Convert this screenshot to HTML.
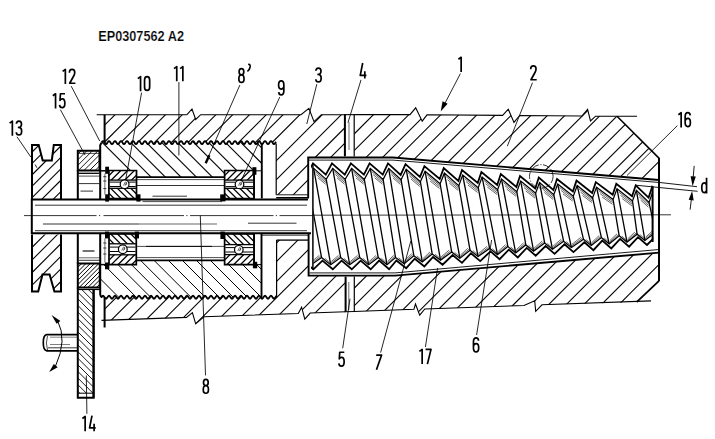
<!DOCTYPE html>
<html><head><meta charset="utf-8"><title>EP0307562 A2</title><style>html,body{margin:0;padding:0;background:#fff;}body{width:715px;height:439px;overflow:hidden;font-family:"Liberation Sans",sans-serif;}svg{display:block;}</style></head><body><svg width="715" height="439" viewBox="0 0 715 439" fill="none" stroke="#000" stroke-linecap="butt" stroke-linejoin="miter" font-family="Liberation Sans, sans-serif"><defs><clipPath id="c1"><polygon points="32,199 32,144.9 38.7,144.9 42.7,160.5 51.8,160.5 53.8,144.9 61,144.9 61,199"/></clipPath><clipPath id="c2"><polygon points="32,234.4 32,291.6 38.2,291.6 42.5,274.5 49.6,274.5 54.4,291.6 61,291.6 61,234.4"/></clipPath><clipPath id="c3"><polygon points="77.8,150.8 99.5,150.8 99.5,170.5 77.8,170.5"/></clipPath><clipPath id="c4"><polygon points="77.8,263.6 99.8,263.6 99.8,287.4 77.8,287.4"/></clipPath><clipPath id="c5"><polygon points="77.8,289.5 93.6,289.5 93.6,393.2 77.8,393.2"/></clipPath><clipPath id="c6"><polygon points="100.2,145 101.5,142.6 102,141.85 102.5,141.3 103,141.1 103.5,141.3 104,141.85 104.5,142.6 105,143.35 105.5,143.9 106,144.1 106.5,143.9 107,143.35 107.5,142.6 108,141.85 108.5,141.3 109,141.1 109.5,141.3 110,141.85 110.5,142.6 111,143.35 111.5,143.9 112,144.1 112.5,143.9 113,143.35 113.5,142.6 114,141.85 114.5,141.3 115,141.1 115.5,141.3 116,141.85 116.5,142.6 117,143.35 117.5,143.9 118,144.1 118.5,143.9 119,143.35 119.5,142.6 120,141.85 120.5,141.3 121,141.1 121.5,141.3 122,141.85 122.5,142.6 123,143.35 123.5,143.9 124,144.1 124.5,143.9 125,143.35 125.5,142.6 126,141.85 126.5,141.3 127,141.1 127.5,141.3 128,141.85 128.5,142.6 129,143.35 129.5,143.9 130,144.1 130.5,143.9 131,143.35 131.5,142.6 132,141.85 132.5,141.3 133,141.1 133.5,141.3 134,141.85 134.5,142.6 135,143.35 135.5,143.9 136,144.1 136.5,143.9 137,143.35 137.5,142.6 138,141.85 138.5,141.3 139,141.1 139.5,141.3 140,141.85 140.5,142.6 141,143.35 141.5,143.9 142,144.1 142.5,143.9 143,143.35 143.5,142.6 144,141.85 144.5,141.3 145,141.1 145.5,141.3 146,141.85 146.5,142.6 147,143.35 147.5,143.9 148,144.1 148.5,143.9 149,143.35 149.5,142.6 150,141.85 150.5,141.3 151,141.1 151.5,141.3 152,141.85 152.5,142.6 153,143.35 153.5,143.9 154,144.1 154.5,143.9 155,143.35 155.5,142.6 156,141.85 156.5,141.3 157,141.1 157.5,141.3 158,141.85 158.5,142.6 159,143.35 159.5,143.9 160,144.1 160.5,143.9 161,143.35 161.5,142.6 162,141.85 162.5,141.3 163,141.1 163.5,141.3 164,141.85 164.5,142.6 165,143.35 165.5,143.9 166,144.1 166.5,143.9 167,143.35 167.5,142.6 168,141.85 168.5,141.3 169,141.1 169.5,141.3 170,141.85 170.5,142.6 171,143.35 171.5,143.9 172,144.1 172.5,143.9 173,143.35 173.5,142.6 174,141.85 174.5,141.3 175,141.1 175.5,141.3 176,141.85 176.5,142.6 177,143.35 177.5,143.9 178,144.1 178.5,143.9 179,143.35 179.5,142.6 180,141.85 180.5,141.3 181,141.1 181.5,141.3 182,141.85 182.5,142.6 183,143.35 183.5,143.9 184,144.1 184.5,143.9 185,143.35 185.5,142.6 186,141.85 186.5,141.3 187,141.1 187.5,141.3 188,141.85 188.5,142.6 189,143.35 189.5,143.9 190,144.1 190.5,143.9 191,143.35 191.5,142.6 192,141.85 192.5,141.3 193,141.1 193.5,141.3 194,141.85 194.5,142.6 195,143.35 195.5,143.9 196,144.1 196.5,143.9 197,143.35 197.5,142.6 198,141.85 198.5,141.3 199,141.1 199.5,141.3 200,141.85 200.5,142.6 201,143.35 201.5,143.9 202,144.1 202.5,143.9 203,143.35 203.5,142.6 204,141.85 204.5,141.3 205,141.1 205.5,141.3 206,141.85 206.5,142.6 207,143.35 207.5,143.9 208,144.1 208.5,143.9 209,143.35 209.5,142.6 210,141.85 210.5,141.3 211,141.1 211.5,141.3 212,141.85 212.5,142.6 213,143.35 213.5,143.9 214,144.1 214.5,143.9 215,143.35 215.5,142.6 216,141.85 216.5,141.3 217,141.1 217.5,141.3 218,141.85 218.5,142.6 219,143.35 219.5,143.9 220,144.1 220.5,143.9 221,143.35 221.5,142.6 222,141.85 222.5,141.3 223,141.1 223.5,141.3 224,141.85 224.5,142.6 225,143.35 225.5,143.9 226,144.1 226.5,143.9 227,143.35 227.5,142.6 228,141.85 228.5,141.3 229,141.1 229.5,141.3 230,141.85 230.5,142.6 231,143.35 231.5,143.9 232,144.1 232.5,143.9 233,143.35 233.5,142.6 234,141.85 234.5,141.3 235,141.1 235.5,141.3 236,141.85 236.5,142.6 237,143.35 237.5,143.9 238,144.1 238.5,143.9 239,143.35 239.5,142.6 240,141.85 240.5,141.3 241,141.1 241.5,141.3 242,141.85 242.5,142.6 243,143.35 243.5,143.9 244,144.1 244.5,143.9 245,143.35 245.5,142.6 246,141.85 246.5,141.3 247,141.1 247.5,141.3 248,141.85 248.5,142.6 249,143.35 249.5,143.9 250,144.1 250.5,143.9 251,143.35 251.5,142.6 252,141.85 252.5,141.3 253,141.1 253.5,141.3 254,141.85 254.5,142.6 255,143.35 255.5,143.9 256,144.1 256.5,143.9 257,143.35 257.5,142.6 258,141.85 258.5,141.3 259,141.1 259.5,141.3 260,141.85 260.5,142.6 261,143.35 261.5,143.9 262,144.1 262,170.8 224.6,170.8 224.6,177.2 137,177.2 137,170.8 100.2,170.8"/></clipPath><clipPath id="c7"><polygon points="100.2,264.6 136.2,264.6 136.2,260.3 224.6,260.3 224.6,264.6 261.5,264.6 261.5,297.2 261.5,298.5 261,297.95 260.5,297.2 260,296.45 259.5,295.9 259,295.7 258.5,295.9 258,296.45 257.5,297.2 257,297.95 256.5,298.5 256,298.7 255.5,298.5 255,297.95 254.5,297.2 254,296.45 253.5,295.9 253,295.7 252.5,295.9 252,296.45 251.5,297.2 251,297.95 250.5,298.5 250,298.7 249.5,298.5 249,297.95 248.5,297.2 248,296.45 247.5,295.9 247,295.7 246.5,295.9 246,296.45 245.5,297.2 245,297.95 244.5,298.5 244,298.7 243.5,298.5 243,297.95 242.5,297.2 242,296.45 241.5,295.9 241,295.7 240.5,295.9 240,296.45 239.5,297.2 239,297.95 238.5,298.5 238,298.7 237.5,298.5 237,297.95 236.5,297.2 236,296.45 235.5,295.9 235,295.7 234.5,295.9 234,296.45 233.5,297.2 233,297.95 232.5,298.5 232,298.7 231.5,298.5 231,297.95 230.5,297.2 230,296.45 229.5,295.9 229,295.7 228.5,295.9 228,296.45 227.5,297.2 227,297.95 226.5,298.5 226,298.7 225.5,298.5 225,297.95 224.5,297.2 224,296.45 223.5,295.9 223,295.7 222.5,295.9 222,296.45 221.5,297.2 221,297.95 220.5,298.5 220,298.7 219.5,298.5 219,297.95 218.5,297.2 218,296.45 217.5,295.9 217,295.7 216.5,295.9 216,296.45 215.5,297.2 215,297.95 214.5,298.5 214,298.7 213.5,298.5 213,297.95 212.5,297.2 212,296.45 211.5,295.9 211,295.7 210.5,295.9 210,296.45 209.5,297.2 209,297.95 208.5,298.5 208,298.7 207.5,298.5 207,297.95 206.5,297.2 206,296.45 205.5,295.9 205,295.7 204.5,295.9 204,296.45 203.5,297.2 203,297.95 202.5,298.5 202,298.7 201.5,298.5 201,297.95 200.5,297.2 200,296.45 199.5,295.9 199,295.7 198.5,295.9 198,296.45 197.5,297.2 197,297.95 196.5,298.5 196,298.7 195.5,298.5 195,297.95 194.5,297.2 194,296.45 193.5,295.9 193,295.7 192.5,295.9 192,296.45 191.5,297.2 191,297.95 190.5,298.5 190,298.7 189.5,298.5 189,297.95 188.5,297.2 188,296.45 187.5,295.9 187,295.7 186.5,295.9 186,296.45 185.5,297.2 185,297.95 184.5,298.5 184,298.7 183.5,298.5 183,297.95 182.5,297.2 182,296.45 181.5,295.9 181,295.7 180.5,295.9 180,296.45 179.5,297.2 179,297.95 178.5,298.5 178,298.7 177.5,298.5 177,297.95 176.5,297.2 176,296.45 175.5,295.9 175,295.7 174.5,295.9 174,296.45 173.5,297.2 173,297.95 172.5,298.5 172,298.7 171.5,298.5 171,297.95 170.5,297.2 170,296.45 169.5,295.9 169,295.7 168.5,295.9 168,296.45 167.5,297.2 167,297.95 166.5,298.5 166,298.7 165.5,298.5 165,297.95 164.5,297.2 164,296.45 163.5,295.9 163,295.7 162.5,295.9 162,296.45 161.5,297.2 161,297.95 160.5,298.5 160,298.7 159.5,298.5 159,297.95 158.5,297.2 158,296.45 157.5,295.9 157,295.7 156.5,295.9 156,296.45 155.5,297.2 155,297.95 154.5,298.5 154,298.7 153.5,298.5 153,297.95 152.5,297.2 152,296.45 151.5,295.9 151,295.7 150.5,295.9 150,296.45 149.5,297.2 149,297.95 148.5,298.5 148,298.7 147.5,298.5 147,297.95 146.5,297.2 146,296.45 145.5,295.9 145,295.7 144.5,295.9 144,296.45 143.5,297.2 143,297.95 142.5,298.5 142,298.7 141.5,298.5 141,297.95 140.5,297.2 140,296.45 139.5,295.9 139,295.7 138.5,295.9 138,296.45 137.5,297.2 137,297.95 136.5,298.5 136,298.7 135.5,298.5 135,297.95 134.5,297.2 134,296.45 133.5,295.9 133,295.7 132.5,295.9 132,296.45 131.5,297.2 131,297.95 130.5,298.5 130,298.7 129.5,298.5 129,297.95 128.5,297.2 128,296.45 127.5,295.9 127,295.7 126.5,295.9 126,296.45 125.5,297.2 125,297.95 124.5,298.5 124,298.7 123.5,298.5 123,297.95 122.5,297.2 122,296.45 121.5,295.9 121,295.7 120.5,295.9 120,296.45 119.5,297.2 119,297.95 118.5,298.5 118,298.7 117.5,298.5 117,297.95 116.5,297.2 116,296.45 115.5,295.9 115,295.7 114.5,295.9 114,296.45 113.5,297.2 113,297.95 112.5,298.5 112,298.7 111.5,298.5 111,297.95 110.5,297.2 110,296.45 109.5,295.9 109,295.7 108.5,295.9 108,296.45 107.5,297.2 107,297.95 106.5,298.5 106,298.7 105.5,298.5 105,297.95 104.5,297.2 104,296.45 103.5,295.9 103,295.7 102.5,295.9 102,296.45 101.5,297.2 100.2,294.5"/></clipPath><clipPath id="c8"><polygon points="104.6,114.7 187,114.7 192,109 195.7,119.4 200.7,114.7 301,114.7 308.9,108.4 314,121.6 321.3,114.7 344.9,114.7 344.9,157.2 308,157.2 308,194.8 276.2,194.8 276.2,142.6 276.1,141.72 275.6,142.44 275.1,143.21 274.6,143.81 274.1,144.09 273.6,143.97 273.1,143.48 272.6,142.76 272.1,141.99 271.6,141.39 271.1,141.11 270.6,141.23 270.1,141.72 269.6,142.44 269.1,143.21 268.6,143.81 268.1,144.09 267.6,143.97 267.1,143.48 266.6,142.76 266.1,141.99 265.6,141.39 265.1,141.11 264.6,141.23 264.1,141.72 263.6,142.44 263.1,143.21 262.6,143.81 262.1,144.09 261.6,143.97 261.1,143.48 260.6,142.76 260.1,141.99 259.6,141.39 259.1,141.11 258.6,141.23 258.1,141.72 257.6,142.44 257.1,143.21 256.6,143.81 256.1,144.09 255.6,143.97 255.1,143.48 254.6,142.76 254.1,141.99 253.6,141.39 253.1,141.11 252.6,141.23 252.1,141.72 251.6,142.44 251.1,143.21 250.6,143.81 250.1,144.09 249.6,143.97 249.1,143.48 248.6,142.76 248.1,141.99 247.6,141.39 247.1,141.11 246.6,141.23 246.1,141.72 245.6,142.44 245.1,143.21 244.6,143.81 244.1,144.09 243.6,143.97 243.1,143.48 242.6,142.76 242.1,141.99 241.6,141.39 241.1,141.11 240.6,141.23 240.1,141.72 239.6,142.44 239.1,143.21 238.6,143.81 238.1,144.09 237.6,143.97 237.1,143.48 236.6,142.76 236.1,141.99 235.6,141.39 235.1,141.11 234.6,141.23 234.1,141.72 233.6,142.44 233.1,143.21 232.6,143.81 232.1,144.09 231.6,143.97 231.1,143.48 230.6,142.76 230.1,141.99 229.6,141.39 229.1,141.11 228.6,141.23 228.1,141.72 227.6,142.44 227.1,143.21 226.6,143.81 226.1,144.09 225.6,143.97 225.1,143.48 224.6,142.76 224.1,141.99 223.6,141.39 223.1,141.11 222.6,141.23 222.1,141.72 221.6,142.44 221.1,143.21 220.6,143.81 220.1,144.09 219.6,143.97 219.1,143.48 218.6,142.76 218.1,141.99 217.6,141.39 217.1,141.11 216.6,141.23 216.1,141.72 215.6,142.44 215.1,143.21 214.6,143.81 214.1,144.09 213.6,143.97 213.1,143.48 212.6,142.76 212.1,141.99 211.6,141.39 211.1,141.11 210.6,141.23 210.1,141.72 209.6,142.44 209.1,143.21 208.6,143.81 208.1,144.09 207.6,143.97 207.1,143.48 206.6,142.76 206.1,141.99 205.6,141.39 205.1,141.11 204.6,141.23 204.1,141.72 203.6,142.44 203.1,143.21 202.6,143.81 202.1,144.09 201.6,143.97 201.1,143.48 200.6,142.76 200.1,141.99 199.6,141.39 199.1,141.11 198.6,141.23 198.1,141.72 197.6,142.44 197.1,143.21 196.6,143.81 196.1,144.09 195.6,143.97 195.1,143.48 194.6,142.76 194.1,141.99 193.6,141.39 193.1,141.11 192.6,141.23 192.1,141.72 191.6,142.44 191.1,143.21 190.6,143.81 190.1,144.09 189.6,143.97 189.1,143.48 188.6,142.76 188.1,141.99 187.6,141.39 187.1,141.11 186.6,141.23 186.1,141.72 185.6,142.44 185.1,143.21 184.6,143.81 184.1,144.09 183.6,143.97 183.1,143.48 182.6,142.76 182.1,141.99 181.6,141.39 181.1,141.11 180.6,141.23 180.1,141.72 179.6,142.44 179.1,143.21 178.6,143.81 178.1,144.09 177.6,143.97 177.1,143.48 176.6,142.76 176.1,141.99 175.6,141.39 175.1,141.11 174.6,141.23 174.1,141.72 173.6,142.44 173.1,143.21 172.6,143.81 172.1,144.09 171.6,143.97 171.1,143.48 170.6,142.76 170.1,141.99 169.6,141.39 169.1,141.11 168.6,141.23 168.1,141.72 167.6,142.44 167.1,143.21 166.6,143.81 166.1,144.09 165.6,143.97 165.1,143.48 164.6,142.76 164.1,141.99 163.6,141.39 163.1,141.11 162.6,141.23 162.1,141.72 161.6,142.44 161.1,143.21 160.6,143.81 160.1,144.09 159.6,143.97 159.1,143.48 158.6,142.76 158.1,141.99 157.6,141.39 157.1,141.11 156.6,141.23 156.1,141.72 155.6,142.44 155.1,143.21 154.6,143.81 154.1,144.09 153.6,143.97 153.1,143.48 152.6,142.76 152.1,141.99 151.6,141.39 151.1,141.11 150.6,141.23 150.1,141.72 149.6,142.44 149.1,143.21 148.6,143.81 148.1,144.09 147.6,143.97 147.1,143.48 146.6,142.76 146.1,141.99 145.6,141.39 145.1,141.11 144.6,141.23 144.1,141.72 143.6,142.44 143.1,143.21 142.6,143.81 142.1,144.09 141.6,143.97 141.1,143.48 140.6,142.76 140.1,141.99 139.6,141.39 139.1,141.11 138.6,141.23 138.1,141.72 137.6,142.44 137.1,143.21 136.6,143.81 136.1,144.09 135.6,143.97 135.1,143.48 134.6,142.76 134.1,141.99 133.6,141.39 133.1,141.11 132.6,141.23 132.1,141.72 131.6,142.44 131.1,143.21 130.6,143.81 130.1,144.09 129.6,143.97 129.1,143.48 128.6,142.76 128.1,141.99 127.6,141.39 127.1,141.11 126.6,141.23 126.1,141.72 125.6,142.44 125.1,143.21 124.6,143.81 124.1,144.09 123.6,143.97 123.1,143.48 122.6,142.76 122.1,141.99 121.6,141.39 121.1,141.11 120.6,141.23 120.1,141.72 119.6,142.44 119.1,143.21 118.6,143.81 118.1,144.09 117.6,143.97 117.1,143.48 116.6,142.76 116.1,141.99 115.6,141.39 115.1,141.11 114.6,141.23 114.1,141.72 113.6,142.44 113.1,143.21 112.6,143.81 112.1,144.09 111.6,143.97 111.1,143.48 110.6,142.76 110.1,141.99 109.6,141.39 109.1,141.11 108.6,141.23 108.1,141.72 107.6,142.44 107.1,143.21 106.6,143.81 106.1,144.09 105.6,143.97 105.1,143.48 104.6,142.76"/></clipPath><clipPath id="c9"><polygon points="104.6,297.2 104.6,297.36 105.1,298.08 105.6,298.57 106.1,298.69 106.6,298.41 107.1,297.81 107.6,297.04 108.1,296.32 108.6,295.83 109.1,295.71 109.6,295.99 110.1,296.59 110.6,297.36 111.1,298.08 111.6,298.57 112.1,298.69 112.6,298.41 113.1,297.81 113.6,297.04 114.1,296.32 114.6,295.83 115.1,295.71 115.6,295.99 116.1,296.59 116.6,297.36 117.1,298.08 117.6,298.57 118.1,298.69 118.6,298.41 119.1,297.81 119.6,297.04 120.1,296.32 120.6,295.83 121.1,295.71 121.6,295.99 122.1,296.59 122.6,297.36 123.1,298.08 123.6,298.57 124.1,298.69 124.6,298.41 125.1,297.81 125.6,297.04 126.1,296.32 126.6,295.83 127.1,295.71 127.6,295.99 128.1,296.59 128.6,297.36 129.1,298.08 129.6,298.57 130.1,298.69 130.6,298.41 131.1,297.81 131.6,297.04 132.1,296.32 132.6,295.83 133.1,295.71 133.6,295.99 134.1,296.59 134.6,297.36 135.1,298.08 135.6,298.57 136.1,298.69 136.6,298.41 137.1,297.81 137.6,297.04 138.1,296.32 138.6,295.83 139.1,295.71 139.6,295.99 140.1,296.59 140.6,297.36 141.1,298.08 141.6,298.57 142.1,298.69 142.6,298.41 143.1,297.81 143.6,297.04 144.1,296.32 144.6,295.83 145.1,295.71 145.6,295.99 146.1,296.59 146.6,297.36 147.1,298.08 147.6,298.57 148.1,298.69 148.6,298.41 149.1,297.81 149.6,297.04 150.1,296.32 150.6,295.83 151.1,295.71 151.6,295.99 152.1,296.59 152.6,297.36 153.1,298.08 153.6,298.57 154.1,298.69 154.6,298.41 155.1,297.81 155.6,297.04 156.1,296.32 156.6,295.83 157.1,295.71 157.6,295.99 158.1,296.59 158.6,297.36 159.1,298.08 159.6,298.57 160.1,298.69 160.6,298.41 161.1,297.81 161.6,297.04 162.1,296.32 162.6,295.83 163.1,295.71 163.6,295.99 164.1,296.59 164.6,297.36 165.1,298.08 165.6,298.57 166.1,298.69 166.6,298.41 167.1,297.81 167.6,297.04 168.1,296.32 168.6,295.83 169.1,295.71 169.6,295.99 170.1,296.59 170.6,297.36 171.1,298.08 171.6,298.57 172.1,298.69 172.6,298.41 173.1,297.81 173.6,297.04 174.1,296.32 174.6,295.83 175.1,295.71 175.6,295.99 176.1,296.59 176.6,297.36 177.1,298.08 177.6,298.57 178.1,298.69 178.6,298.41 179.1,297.81 179.6,297.04 180.1,296.32 180.6,295.83 181.1,295.71 181.6,295.99 182.1,296.59 182.6,297.36 183.1,298.08 183.6,298.57 184.1,298.69 184.6,298.41 185.1,297.81 185.6,297.04 186.1,296.32 186.6,295.83 187.1,295.71 187.6,295.99 188.1,296.59 188.6,297.36 189.1,298.08 189.6,298.57 190.1,298.69 190.6,298.41 191.1,297.81 191.6,297.04 192.1,296.32 192.6,295.83 193.1,295.71 193.6,295.99 194.1,296.59 194.6,297.36 195.1,298.08 195.6,298.57 196.1,298.69 196.6,298.41 197.1,297.81 197.6,297.04 198.1,296.32 198.6,295.83 199.1,295.71 199.6,295.99 200.1,296.59 200.6,297.36 201.1,298.08 201.6,298.57 202.1,298.69 202.6,298.41 203.1,297.81 203.6,297.04 204.1,296.32 204.6,295.83 205.1,295.71 205.6,295.99 206.1,296.59 206.6,297.36 207.1,298.08 207.6,298.57 208.1,298.69 208.6,298.41 209.1,297.81 209.6,297.04 210.1,296.32 210.6,295.83 211.1,295.71 211.6,295.99 212.1,296.59 212.6,297.36 213.1,298.08 213.6,298.57 214.1,298.69 214.6,298.41 215.1,297.81 215.6,297.04 216.1,296.32 216.6,295.83 217.1,295.71 217.6,295.99 218.1,296.59 218.6,297.36 219.1,298.08 219.6,298.57 220.1,298.69 220.6,298.41 221.1,297.81 221.6,297.04 222.1,296.32 222.6,295.83 223.1,295.71 223.6,295.99 224.1,296.59 224.6,297.36 225.1,298.08 225.6,298.57 226.1,298.69 226.6,298.41 227.1,297.81 227.6,297.04 228.1,296.32 228.6,295.83 229.1,295.71 229.6,295.99 230.1,296.59 230.6,297.36 231.1,298.08 231.6,298.57 232.1,298.69 232.6,298.41 233.1,297.81 233.6,297.04 234.1,296.32 234.6,295.83 235.1,295.71 235.6,295.99 236.1,296.59 236.6,297.36 237.1,298.08 237.6,298.57 238.1,298.69 238.6,298.41 239.1,297.81 239.6,297.04 240.1,296.32 240.6,295.83 241.1,295.71 241.6,295.99 242.1,296.59 242.6,297.36 243.1,298.08 243.6,298.57 244.1,298.69 244.6,298.41 245.1,297.81 245.6,297.04 246.1,296.32 246.6,295.83 247.1,295.71 247.6,295.99 248.1,296.59 248.6,297.36 249.1,298.08 249.6,298.57 250.1,298.69 250.6,298.41 251.1,297.81 251.6,297.04 252.1,296.32 252.6,295.83 253.1,295.71 253.6,295.99 254.1,296.59 254.6,297.36 255.1,298.08 255.6,298.57 256.1,298.69 256.6,298.41 257.1,297.81 257.6,297.04 258.1,296.32 258.6,295.83 259.1,295.71 259.6,295.99 260.1,296.59 260.6,297.36 261.1,298.08 261.6,298.57 262.1,298.69 262.6,298.41 263.1,297.81 263.6,297.04 264.1,296.32 264.6,295.83 265.1,295.71 265.6,295.99 266.1,296.59 266.6,297.36 267.1,298.08 267.6,298.57 268.1,298.69 268.6,298.41 269.1,297.81 269.6,297.04 270.1,296.32 270.6,295.83 271.1,295.71 271.6,295.99 272.1,296.59 272.6,297.36 273.1,298.08 273.6,298.57 274.1,298.69 274.6,298.41 275.1,297.81 275.6,297.04 276.1,296.32 276.5,240.1 308,240.1 308,276 345.5,276 345.5,311.76 310.2,313.02 304.8,319.1 301.6,307.2 298.3,313.44 204,316.79 195.7,323.8 192.4,312.6 186.5,317.41 104.6,320.31"/></clipPath><clipPath id="c10"><polygon points="108.9,170.5 136.5,170.5 136.5,180.1 108.9,180.1"/></clipPath><clipPath id="c11"><polygon points="108.9,188.3 136.5,188.3 136.5,198.6 108.9,198.6"/></clipPath><clipPath id="c12"><polygon points="224.6,170.5 254,170.5 254,180.1 224.6,180.1"/></clipPath><clipPath id="c13"><polygon points="224.6,188.3 254,188.3 254,198.6 224.6,198.6"/></clipPath><clipPath id="c14"><polygon points="109,254.8 136.3,254.8 136.3,264.6 109,264.6"/></clipPath><clipPath id="c15"><polygon points="109,234 136.3,234 136.3,243.8 109,243.8"/></clipPath><clipPath id="c16"><polygon points="224.6,254.6 254,254.6 254,264.6 224.6,264.6"/></clipPath><clipPath id="c17"><polygon points="224.6,234 254,234 254,244.6 224.6,244.6"/></clipPath><clipPath id="c18"><polygon points="354.4,114.6 410,114.67 415.7,107.8 422.2,121.2 427,114.8 502.6,115.37 508.3,109.2 514,122.4 519.7,115.5 582,115.96 587.6,109.4 590.5,121 595.6,116.2 617,116.2 659.2,158.4 659.2,179.69 393,157.2 354.4,157.2"/></clipPath><clipPath id="c19"><polygon points="354.3,276 395,276 659,252.95 659,280.8 636.6,302.2 542,304.79 535.7,311.3 534.7,300.8 524,305.43 424.8,308.95 419.7,315.1 415.5,304 413.9,309.33 354.3,311.45"/></clipPath><clipPath id="c20"><polygon points="313,163.4 325.8,174.6 332,163.4 344.75,174.6 350.9,163.4 363.89,174.6 369.6,163.4 382.74,174.6 388,163.4 400.67,174.88 405.5,164.18 419.98,176.89 424.4,166.15 439.73,178.94 443.7,168.15 458.4,180.88 462,170.06 477.8,182.9 481.4,172.07 497.2,184.92 500.8,174.09 516.4,186.91 520,176.09 535.2,188.5 538.8,177.59 553.4,189.96 557,179.05 572.9,191.52 576.5,180.61 592.2,193.06 595.8,182.15 612.7,194.7 616.3,183.79 632.1,196.26 635.7,185.34 648.6,197.58 652.6,186.6 652.6,241.6 647,244.98 638,237.15 629.1,246.71 620.1,238.88 611.3,248.43 602.3,240.6 593.4,250.15 584.4,242.32 573.5,252.07 564.5,244.24 554.6,253.9 545.6,246.07 535.7,255.72 526.7,247.89 517.8,257.45 508.8,249.62 499.6,259.21 490.5,251.38 480.2,261.08 470.95,253.27 462,262.83 452.62,255.04 442.6,264.71 433.07,256.93 424.4,266.46 414.74,258.7 406.2,268.22 396.4,260.46 389.1,269.3 379.17,260.6 370.7,269.3 360.63,260.6 351.8,269.3 341.59,260.6 332.8,269.3 322.45,260.6 313.4,269.3"/></clipPath><clipPath id="c21"><polygon points="311,150 653.2,150 653.2,290 311,290"/></clipPath></defs><rect width="715" height="439" fill="#fff" stroke="none"/><path d="M24 215.6H96.5M99 215.6h1.2M103.5 215.6H184M186.3 215.6h1.2M190 215.6H273.5M275.8 215.6h1.2M279.5 215.6H312" stroke-width="0.8"/>
<line x1="312" y1="215.2" x2="671" y2="214.8" stroke-width="0.8" />
<line x1="31.8" y1="199.4" x2="308" y2="199.4" stroke-width="2" />
<line x1="31.8" y1="233.3" x2="311" y2="233.3" stroke-width="2" />
<line x1="31.8" y1="198.6" x2="31.8" y2="234.1" stroke-width="2" />
<line x1="35" y1="205.2" x2="307" y2="205.2" stroke-width="0.8" />
<line x1="43" y1="224" x2="139" y2="224" stroke-width="0.8" />
<line x1="139" y1="224" x2="217" y2="224" stroke-width="0.6" />
<line x1="248" y1="223.2" x2="296.5" y2="223.2" stroke-width="0.8" />
<line x1="35" y1="230.7" x2="307" y2="230.7" stroke-width="0.8" />
<line x1="142.5" y1="201.6" x2="222" y2="201.6" stroke-width="0.7" />
<g clip-path="url(#c1)">
<line x1="41.2" y1="142.9" x2="-16.9" y2="201" stroke-width="1.1" />
<line x1="52.6" y1="142.9" x2="-5.5" y2="201" stroke-width="1.1" />
<line x1="64" y1="142.9" x2="5.9" y2="201" stroke-width="1.1" />
<line x1="75.4" y1="142.9" x2="17.3" y2="201" stroke-width="1.1" />
<line x1="86.8" y1="142.9" x2="28.7" y2="201" stroke-width="1.1" />
<line x1="98.2" y1="142.9" x2="40.1" y2="201" stroke-width="1.1" />
<line x1="109.6" y1="142.9" x2="51.5" y2="201" stroke-width="1.1" />
</g>
<polyline points="32,199 32,144.9 38.7,144.9 42.7,160.5 51.8,160.5 53.8,144.9 61,144.9 61,199" stroke-width="2" />
<g clip-path="url(#c2)">
<line x1="47" y1="232.4" x2="-14.2" y2="293.6" stroke-width="1.1" />
<line x1="59.6" y1="232.4" x2="-1.6" y2="293.6" stroke-width="1.1" />
<line x1="72.2" y1="232.4" x2="11" y2="293.6" stroke-width="1.1" />
<line x1="84.8" y1="232.4" x2="23.6" y2="293.6" stroke-width="1.1" />
<line x1="97.4" y1="232.4" x2="36.2" y2="293.6" stroke-width="1.1" />
<line x1="110" y1="232.4" x2="48.8" y2="293.6" stroke-width="1.1" />
</g>
<polyline points="32,234.4 32,291.6 38.2,291.6 42.5,274.5 49.6,274.5 54.4,291.6 61,291.6 61,234.4" stroke-width="2" />
<g clip-path="url(#c3)">
<line x1="83.2" y1="148.8" x2="59.5" y2="172.5" stroke-width="0.9" />
<line x1="88.8" y1="148.8" x2="65.1" y2="172.5" stroke-width="0.9" />
<line x1="94.4" y1="148.8" x2="70.7" y2="172.5" stroke-width="0.9" />
<line x1="100" y1="148.8" x2="76.3" y2="172.5" stroke-width="0.9" />
<line x1="105.6" y1="148.8" x2="81.9" y2="172.5" stroke-width="0.9" />
<line x1="111.2" y1="148.8" x2="87.5" y2="172.5" stroke-width="0.9" />
<line x1="116.8" y1="148.8" x2="93.1" y2="172.5" stroke-width="0.9" />
<line x1="122.4" y1="148.8" x2="98.7" y2="172.5" stroke-width="0.9" />
</g>
<polygon points="77.8,150.8 99.5,150.8 99.5,170.5 77.8,170.5" stroke-width="2" fill="none" />
<line x1="77.8" y1="153.4" x2="99.5" y2="153.4" stroke-width="0.7" />
<line x1="77.8" y1="170.5" x2="77.8" y2="199" stroke-width="2" />
<line x1="77.8" y1="173.3" x2="99.5" y2="173.3" stroke-width="1.3" />
<line x1="79" y1="176.1" x2="99.5" y2="176.1" stroke-width="0.7" />
<line x1="79" y1="183.6" x2="99.5" y2="183.6" stroke-width="0.8" />
<line x1="80.5" y1="191.1" x2="93" y2="191.1" stroke-width="0.8" />
<g clip-path="url(#c4)">
<line x1="83.6" y1="261.6" x2="55.8" y2="289.4" stroke-width="1" />
<line x1="87.9" y1="261.6" x2="60.1" y2="289.4" stroke-width="1" />
<line x1="92.2" y1="261.6" x2="64.4" y2="289.4" stroke-width="1" />
<line x1="96.5" y1="261.6" x2="68.7" y2="289.4" stroke-width="1" />
<line x1="100.8" y1="261.6" x2="73" y2="289.4" stroke-width="1" />
<line x1="105.1" y1="261.6" x2="77.3" y2="289.4" stroke-width="1" />
<line x1="109.4" y1="261.6" x2="81.6" y2="289.4" stroke-width="1" />
<line x1="113.7" y1="261.6" x2="85.9" y2="289.4" stroke-width="1" />
<line x1="118" y1="261.6" x2="90.2" y2="289.4" stroke-width="1" />
<line x1="122.3" y1="261.6" x2="94.5" y2="289.4" stroke-width="1" />
<line x1="126.6" y1="261.6" x2="98.8" y2="289.4" stroke-width="1" />
</g>
<polygon points="77.8,263.6 99.8,263.6 99.8,287.4 77.8,287.4" stroke-width="2" fill="none" />
<line x1="77.8" y1="233.6" x2="77.8" y2="263.6" stroke-width="2" />
<line x1="79" y1="260.3" x2="99.8" y2="260.3" stroke-width="0.8" />
<line x1="82.6" y1="251" x2="94.5" y2="251" stroke-width="1.1" />
<line x1="79" y1="257.8" x2="99.8" y2="257.8" stroke-width="0.6" />
<g clip-path="url(#c5)">
<line x1="-32.5" y1="287.5" x2="75.2" y2="395.2" stroke-width="0.9" />
<line x1="-25.9" y1="287.5" x2="81.8" y2="395.2" stroke-width="0.9" />
<line x1="-19.3" y1="287.5" x2="88.4" y2="395.2" stroke-width="0.9" />
<line x1="-12.7" y1="287.5" x2="95" y2="395.2" stroke-width="0.9" />
<line x1="-6.1" y1="287.5" x2="101.6" y2="395.2" stroke-width="0.9" />
<line x1="0.5" y1="287.5" x2="108.2" y2="395.2" stroke-width="0.9" />
<line x1="7.1" y1="287.5" x2="114.8" y2="395.2" stroke-width="0.9" />
<line x1="13.7" y1="287.5" x2="121.4" y2="395.2" stroke-width="0.9" />
<line x1="20.3" y1="287.5" x2="128" y2="395.2" stroke-width="0.9" />
<line x1="26.9" y1="287.5" x2="134.6" y2="395.2" stroke-width="0.9" />
<line x1="33.5" y1="287.5" x2="141.2" y2="395.2" stroke-width="0.9" />
<line x1="40.1" y1="287.5" x2="147.8" y2="395.2" stroke-width="0.9" />
<line x1="46.7" y1="287.5" x2="154.4" y2="395.2" stroke-width="0.9" />
<line x1="53.3" y1="287.5" x2="161" y2="395.2" stroke-width="0.9" />
<line x1="59.9" y1="287.5" x2="167.6" y2="395.2" stroke-width="0.9" />
<line x1="66.5" y1="287.5" x2="174.2" y2="395.2" stroke-width="0.9" />
<line x1="73.1" y1="287.5" x2="180.8" y2="395.2" stroke-width="0.9" />
<line x1="79.7" y1="287.5" x2="187.4" y2="395.2" stroke-width="0.9" />
<line x1="86.3" y1="287.5" x2="194" y2="395.2" stroke-width="0.9" />
<line x1="92.9" y1="287.5" x2="200.6" y2="395.2" stroke-width="0.9" />
</g>
<polyline points="77.8,287.4 77.8,397.8 93.6,397.8 93.6,289.5" stroke-width="2" />
<line x1="77.8" y1="289.5" x2="100" y2="289.5" stroke-width="1.2" />
<line x1="77.8" y1="393.2" x2="93.6" y2="393.2" stroke-width="1" />
<line x1="93.6" y1="289.5" x2="93.6" y2="397.8" stroke-width="2" />
<path d="M77.8 334.7H46.8Q43.2 335.2 43.3 342.8Q43.2 350.3 46.8 350.8H77.8" stroke-width="1.7"/>
<path d="M47.5 336Q45.3 343 47.5 350" stroke-width="0.7"/>
<line x1="48" y1="347.8" x2="77.8" y2="347.8" stroke-width="0.8" />
<line x1="50" y1="337.2" x2="77" y2="337.2" stroke-width="0.5" />
<line x1="50" y1="344.5" x2="70" y2="344.5" stroke-width="0.5" />
<path d="M57.5 320.5Q67.6 340 55.4 366.4" stroke-width="1.0"/>
<polygon points="51.6,314.9 60.4,321 56.6,323.7" fill="#000" stroke="none"/>
<polygon points="49.2,371.9 53.8,364 57.7,367.2" fill="#000" stroke="none"/>
<g clip-path="url(#c6)">
<line x1="98.9" y1="139.1" x2="139" y2="179.2" stroke-width="1.1" />
<line x1="113.1" y1="139.1" x2="153.2" y2="179.2" stroke-width="1.1" />
<line x1="127.4" y1="139.1" x2="167.5" y2="179.2" stroke-width="1.1" />
<line x1="143" y1="139.1" x2="183.1" y2="179.2" stroke-width="1.1" />
<line x1="158.4" y1="139.1" x2="198.5" y2="179.2" stroke-width="1.1" />
<line x1="174.4" y1="139.1" x2="214.5" y2="179.2" stroke-width="1.1" />
<line x1="190.3" y1="139.1" x2="230.4" y2="179.2" stroke-width="1.1" />
<line x1="205.3" y1="139.1" x2="245.4" y2="179.2" stroke-width="1.1" />
<line x1="222.1" y1="139.1" x2="262.2" y2="179.2" stroke-width="1.1" />
<line x1="237.5" y1="139.1" x2="277.6" y2="179.2" stroke-width="1.1" />
<line x1="252.9" y1="139.1" x2="293" y2="179.2" stroke-width="1.1" />
</g>
<g clip-path="url(#c7)">
<line x1="79.8" y1="258.3" x2="122.2" y2="300.7" stroke-width="1" />
<line x1="97.4" y1="258.3" x2="139.8" y2="300.7" stroke-width="1" />
<line x1="111.7" y1="258.3" x2="154.1" y2="300.7" stroke-width="1" />
<line x1="125.1" y1="258.3" x2="167.5" y2="300.7" stroke-width="1" />
<line x1="138.5" y1="258.3" x2="180.9" y2="300.7" stroke-width="1" />
<line x1="152" y1="258.3" x2="194.4" y2="300.7" stroke-width="1" />
<line x1="166.3" y1="258.3" x2="208.7" y2="300.7" stroke-width="1" />
<line x1="180.3" y1="258.3" x2="222.7" y2="300.7" stroke-width="1" />
<line x1="194.3" y1="258.3" x2="236.7" y2="300.7" stroke-width="1" />
<line x1="208.3" y1="258.3" x2="250.7" y2="300.7" stroke-width="1" />
<line x1="222.3" y1="258.3" x2="264.7" y2="300.7" stroke-width="1" />
<line x1="236.3" y1="258.3" x2="278.7" y2="300.7" stroke-width="1" />
<line x1="250.3" y1="258.3" x2="292.7" y2="300.7" stroke-width="1" />
</g>
<g clip-path="url(#c8)">
<line x1="123.4" y1="106.4" x2="33" y2="196.8" stroke-width="1.1" />
<line x1="140.2" y1="106.4" x2="49.8" y2="196.8" stroke-width="1.1" />
<line x1="157" y1="106.4" x2="66.6" y2="196.8" stroke-width="1.1" />
<line x1="173.8" y1="106.4" x2="83.4" y2="196.8" stroke-width="1.1" />
<line x1="190.6" y1="106.4" x2="100.2" y2="196.8" stroke-width="1.1" />
<line x1="207.4" y1="106.4" x2="117" y2="196.8" stroke-width="1.1" />
<line x1="224.2" y1="106.4" x2="133.8" y2="196.8" stroke-width="1.1" />
<line x1="241" y1="106.4" x2="150.6" y2="196.8" stroke-width="1.1" />
<line x1="257.8" y1="106.4" x2="167.4" y2="196.8" stroke-width="1.1" />
<line x1="274.6" y1="106.4" x2="184.2" y2="196.8" stroke-width="1.1" />
<line x1="291.4" y1="106.4" x2="201" y2="196.8" stroke-width="1.1" />
<line x1="308.2" y1="106.4" x2="217.8" y2="196.8" stroke-width="1.1" />
<line x1="330.6" y1="106.4" x2="240.2" y2="196.8" stroke-width="1.1" />
<line x1="349.6" y1="106.4" x2="259.2" y2="196.8" stroke-width="1.1" />
<line x1="366.2" y1="106.4" x2="275.8" y2="196.8" stroke-width="1.1" />
<line x1="381.6" y1="106.4" x2="291.2" y2="196.8" stroke-width="1.1" />
</g>
<line x1="96.7" y1="114.7" x2="187" y2="114.7" stroke-width="1.1" />
<polyline points="187,114.7 192,109 195.7,119.4 200.7,114.7 301,114.7 308.9,108.4 314,121.6 321.3,114.7 344.9,114.7" stroke-width="1.1" />
<line x1="104.6" y1="114.7" x2="104.6" y2="143.2" stroke-width="2" />
<polyline points="101.5,142.6 102,141.85 102.5,141.3 103,141.1 103.5,141.3 104,141.85 104.5,142.6 105,143.35 105.5,143.9 106,144.1 106.5,143.9 107,143.35 107.5,142.6 108,141.85 108.5,141.3 109,141.1 109.5,141.3 110,141.85 110.5,142.6 111,143.35 111.5,143.9 112,144.1 112.5,143.9 113,143.35 113.5,142.6 114,141.85 114.5,141.3 115,141.1 115.5,141.3 116,141.85 116.5,142.6 117,143.35 117.5,143.9 118,144.1 118.5,143.9 119,143.35 119.5,142.6 120,141.85 120.5,141.3 121,141.1 121.5,141.3 122,141.85 122.5,142.6 123,143.35 123.5,143.9 124,144.1 124.5,143.9 125,143.35 125.5,142.6 126,141.85 126.5,141.3 127,141.1 127.5,141.3 128,141.85 128.5,142.6 129,143.35 129.5,143.9 130,144.1 130.5,143.9 131,143.35 131.5,142.6 132,141.85 132.5,141.3 133,141.1 133.5,141.3 134,141.85 134.5,142.6 135,143.35 135.5,143.9 136,144.1 136.5,143.9 137,143.35 137.5,142.6 138,141.85 138.5,141.3 139,141.1 139.5,141.3 140,141.85 140.5,142.6 141,143.35 141.5,143.9 142,144.1 142.5,143.9 143,143.35 143.5,142.6 144,141.85 144.5,141.3 145,141.1 145.5,141.3 146,141.85 146.5,142.6 147,143.35 147.5,143.9 148,144.1 148.5,143.9 149,143.35 149.5,142.6 150,141.85 150.5,141.3 151,141.1 151.5,141.3 152,141.85 152.5,142.6 153,143.35 153.5,143.9 154,144.1 154.5,143.9 155,143.35 155.5,142.6 156,141.85 156.5,141.3 157,141.1 157.5,141.3 158,141.85 158.5,142.6 159,143.35 159.5,143.9 160,144.1 160.5,143.9 161,143.35 161.5,142.6 162,141.85 162.5,141.3 163,141.1 163.5,141.3 164,141.85 164.5,142.6 165,143.35 165.5,143.9 166,144.1 166.5,143.9 167,143.35 167.5,142.6 168,141.85 168.5,141.3 169,141.1 169.5,141.3 170,141.85 170.5,142.6 171,143.35 171.5,143.9 172,144.1 172.5,143.9 173,143.35 173.5,142.6 174,141.85 174.5,141.3 175,141.1 175.5,141.3 176,141.85 176.5,142.6 177,143.35 177.5,143.9 178,144.1 178.5,143.9 179,143.35 179.5,142.6 180,141.85 180.5,141.3 181,141.1 181.5,141.3 182,141.85 182.5,142.6 183,143.35 183.5,143.9 184,144.1 184.5,143.9 185,143.35 185.5,142.6 186,141.85 186.5,141.3 187,141.1 187.5,141.3 188,141.85 188.5,142.6 189,143.35 189.5,143.9 190,144.1 190.5,143.9 191,143.35 191.5,142.6 192,141.85 192.5,141.3 193,141.1 193.5,141.3 194,141.85 194.5,142.6 195,143.35 195.5,143.9 196,144.1 196.5,143.9 197,143.35 197.5,142.6 198,141.85 198.5,141.3 199,141.1 199.5,141.3 200,141.85 200.5,142.6 201,143.35 201.5,143.9 202,144.1 202.5,143.9 203,143.35 203.5,142.6 204,141.85 204.5,141.3 205,141.1 205.5,141.3 206,141.85 206.5,142.6 207,143.35 207.5,143.9 208,144.1 208.5,143.9 209,143.35 209.5,142.6 210,141.85 210.5,141.3 211,141.1 211.5,141.3 212,141.85 212.5,142.6 213,143.35 213.5,143.9 214,144.1 214.5,143.9 215,143.35 215.5,142.6 216,141.85 216.5,141.3 217,141.1 217.5,141.3 218,141.85 218.5,142.6 219,143.35 219.5,143.9 220,144.1 220.5,143.9 221,143.35 221.5,142.6 222,141.85 222.5,141.3 223,141.1 223.5,141.3 224,141.85 224.5,142.6 225,143.35 225.5,143.9 226,144.1 226.5,143.9 227,143.35 227.5,142.6 228,141.85 228.5,141.3 229,141.1 229.5,141.3 230,141.85 230.5,142.6 231,143.35 231.5,143.9 232,144.1 232.5,143.9 233,143.35 233.5,142.6 234,141.85 234.5,141.3 235,141.1 235.5,141.3 236,141.85 236.5,142.6 237,143.35 237.5,143.9 238,144.1 238.5,143.9 239,143.35 239.5,142.6 240,141.85 240.5,141.3 241,141.1 241.5,141.3 242,141.85 242.5,142.6 243,143.35 243.5,143.9 244,144.1 244.5,143.9 245,143.35 245.5,142.6 246,141.85 246.5,141.3 247,141.1 247.5,141.3 248,141.85 248.5,142.6 249,143.35 249.5,143.9 250,144.1 250.5,143.9 251,143.35 251.5,142.6 252,141.85 252.5,141.3 253,141.1 253.5,141.3 254,141.85 254.5,142.6 255,143.35 255.5,143.9 256,144.1 256.5,143.9 257,143.35 257.5,142.6 258,141.85 258.5,141.3 259,141.1 259.5,141.3 260,141.85 260.5,142.6 261,143.35 261.5,143.9 262,144.1 262.5,143.9 263,143.35 263.5,142.6 264,141.85 264.5,141.3 265,141.1 265.5,141.3 266,141.85 266.5,142.6 267,143.35 267.5,143.9 268,144.1 268.5,143.9 269,143.35 269.5,142.6 270,141.85 270.5,141.3 271,141.1 271.5,141.3 272,141.85 272.5,142.6 273,143.35 273.5,143.9 274,144.1 274.5,143.9 275,143.35 275.5,142.6 276,141.85" stroke-width="1.8" />
<polyline points="100.2,199 100.2,145.2 101.5,142.6" stroke-width="2" />
<g clip-path="url(#c9)">
<line x1="175.7" y1="238.1" x2="88" y2="325.8" stroke-width="1.1" />
<line x1="193.3" y1="238.1" x2="105.6" y2="325.8" stroke-width="1.1" />
<line x1="210.1" y1="238.1" x2="122.4" y2="325.8" stroke-width="1.1" />
<line x1="227.7" y1="238.1" x2="140" y2="325.8" stroke-width="1.1" />
<line x1="245.4" y1="238.1" x2="157.7" y2="325.8" stroke-width="1.1" />
<line x1="262.9" y1="238.1" x2="175.2" y2="325.8" stroke-width="1.1" />
<line x1="281.4" y1="238.1" x2="193.7" y2="325.8" stroke-width="1.1" />
<line x1="299.9" y1="238.1" x2="212.2" y2="325.8" stroke-width="1.1" />
<line x1="319.9" y1="238.1" x2="232.2" y2="325.8" stroke-width="1.1" />
<line x1="336.1" y1="238.1" x2="248.4" y2="325.8" stroke-width="1.1" />
<line x1="355.9" y1="238.1" x2="268.2" y2="325.8" stroke-width="1.1" />
<line x1="373.9" y1="238.1" x2="286.2" y2="325.8" stroke-width="1.1" />
<line x1="389.9" y1="238.1" x2="302.2" y2="325.8" stroke-width="1.1" />
</g>
<polyline points="101.5,320.42 186.5,317.41 192.4,312.6 195.7,323.8 204,316.79 298.3,313.44 301.6,307.2 304.8,319.1 310.2,313.02 345.5,311.76" stroke-width="1.1" />
<line x1="104.6" y1="297.2" x2="104.6" y2="327.5" stroke-width="2" />
<polyline points="101.5,297.2 102,296.45 102.5,295.9 103,295.7 103.5,295.9 104,296.45 104.5,297.2 105,297.95 105.5,298.5 106,298.7 106.5,298.5 107,297.95 107.5,297.2 108,296.45 108.5,295.9 109,295.7 109.5,295.9 110,296.45 110.5,297.2 111,297.95 111.5,298.5 112,298.7 112.5,298.5 113,297.95 113.5,297.2 114,296.45 114.5,295.9 115,295.7 115.5,295.9 116,296.45 116.5,297.2 117,297.95 117.5,298.5 118,298.7 118.5,298.5 119,297.95 119.5,297.2 120,296.45 120.5,295.9 121,295.7 121.5,295.9 122,296.45 122.5,297.2 123,297.95 123.5,298.5 124,298.7 124.5,298.5 125,297.95 125.5,297.2 126,296.45 126.5,295.9 127,295.7 127.5,295.9 128,296.45 128.5,297.2 129,297.95 129.5,298.5 130,298.7 130.5,298.5 131,297.95 131.5,297.2 132,296.45 132.5,295.9 133,295.7 133.5,295.9 134,296.45 134.5,297.2 135,297.95 135.5,298.5 136,298.7 136.5,298.5 137,297.95 137.5,297.2 138,296.45 138.5,295.9 139,295.7 139.5,295.9 140,296.45 140.5,297.2 141,297.95 141.5,298.5 142,298.7 142.5,298.5 143,297.95 143.5,297.2 144,296.45 144.5,295.9 145,295.7 145.5,295.9 146,296.45 146.5,297.2 147,297.95 147.5,298.5 148,298.7 148.5,298.5 149,297.95 149.5,297.2 150,296.45 150.5,295.9 151,295.7 151.5,295.9 152,296.45 152.5,297.2 153,297.95 153.5,298.5 154,298.7 154.5,298.5 155,297.95 155.5,297.2 156,296.45 156.5,295.9 157,295.7 157.5,295.9 158,296.45 158.5,297.2 159,297.95 159.5,298.5 160,298.7 160.5,298.5 161,297.95 161.5,297.2 162,296.45 162.5,295.9 163,295.7 163.5,295.9 164,296.45 164.5,297.2 165,297.95 165.5,298.5 166,298.7 166.5,298.5 167,297.95 167.5,297.2 168,296.45 168.5,295.9 169,295.7 169.5,295.9 170,296.45 170.5,297.2 171,297.95 171.5,298.5 172,298.7 172.5,298.5 173,297.95 173.5,297.2 174,296.45 174.5,295.9 175,295.7 175.5,295.9 176,296.45 176.5,297.2 177,297.95 177.5,298.5 178,298.7 178.5,298.5 179,297.95 179.5,297.2 180,296.45 180.5,295.9 181,295.7 181.5,295.9 182,296.45 182.5,297.2 183,297.95 183.5,298.5 184,298.7 184.5,298.5 185,297.95 185.5,297.2 186,296.45 186.5,295.9 187,295.7 187.5,295.9 188,296.45 188.5,297.2 189,297.95 189.5,298.5 190,298.7 190.5,298.5 191,297.95 191.5,297.2 192,296.45 192.5,295.9 193,295.7 193.5,295.9 194,296.45 194.5,297.2 195,297.95 195.5,298.5 196,298.7 196.5,298.5 197,297.95 197.5,297.2 198,296.45 198.5,295.9 199,295.7 199.5,295.9 200,296.45 200.5,297.2 201,297.95 201.5,298.5 202,298.7 202.5,298.5 203,297.95 203.5,297.2 204,296.45 204.5,295.9 205,295.7 205.5,295.9 206,296.45 206.5,297.2 207,297.95 207.5,298.5 208,298.7 208.5,298.5 209,297.95 209.5,297.2 210,296.45 210.5,295.9 211,295.7 211.5,295.9 212,296.45 212.5,297.2 213,297.95 213.5,298.5 214,298.7 214.5,298.5 215,297.95 215.5,297.2 216,296.45 216.5,295.9 217,295.7 217.5,295.9 218,296.45 218.5,297.2 219,297.95 219.5,298.5 220,298.7 220.5,298.5 221,297.95 221.5,297.2 222,296.45 222.5,295.9 223,295.7 223.5,295.9 224,296.45 224.5,297.2 225,297.95 225.5,298.5 226,298.7 226.5,298.5 227,297.95 227.5,297.2 228,296.45 228.5,295.9 229,295.7 229.5,295.9 230,296.45 230.5,297.2 231,297.95 231.5,298.5 232,298.7 232.5,298.5 233,297.95 233.5,297.2 234,296.45 234.5,295.9 235,295.7 235.5,295.9 236,296.45 236.5,297.2 237,297.95 237.5,298.5 238,298.7 238.5,298.5 239,297.95 239.5,297.2 240,296.45 240.5,295.9 241,295.7 241.5,295.9 242,296.45 242.5,297.2 243,297.95 243.5,298.5 244,298.7 244.5,298.5 245,297.95 245.5,297.2 246,296.45 246.5,295.9 247,295.7 247.5,295.9 248,296.45 248.5,297.2 249,297.95 249.5,298.5 250,298.7 250.5,298.5 251,297.95 251.5,297.2 252,296.45 252.5,295.9 253,295.7 253.5,295.9 254,296.45 254.5,297.2 255,297.95 255.5,298.5 256,298.7 256.5,298.5 257,297.95 257.5,297.2 258,296.45 258.5,295.9 259,295.7 259.5,295.9 260,296.45 260.5,297.2 261,297.95 261.5,298.5 262,298.7 262.5,298.5 263,297.95 263.5,297.2 264,296.45 264.5,295.9 265,295.7 265.5,295.9 266,296.45 266.5,297.2 267,297.95 267.5,298.5 268,298.7 268.5,298.5 269,297.95 269.5,297.2 270,296.45 270.5,295.9 271,295.7 271.5,295.9 272,296.45 272.5,297.2 273,297.95 273.5,298.5 274,298.7 274.5,298.5 275,297.95 275.5,297.2 276,296.45 276.5,295.9" stroke-width="1.8" />
<path d="M100.2 233.6V294.2Q100.3 296.6 102.2 297.2" stroke-width="2.0"/>
<line x1="261.8" y1="143.2" x2="261.8" y2="198.4" stroke-width="1.9" />
<line x1="276.2" y1="143.6" x2="276.2" y2="194.8" stroke-width="1.2" />
<line x1="261.5" y1="233.6" x2="261.5" y2="297.6" stroke-width="1.9" />
<line x1="276.6" y1="240.1" x2="276.6" y2="297.6" stroke-width="1.2" />
<line x1="276.2" y1="194.8" x2="308" y2="194.8" stroke-width="0.9" />
<line x1="276.2" y1="197.8" x2="309" y2="197.8" stroke-width="1.5" />
<line x1="276.6" y1="240.1" x2="308" y2="240.1" stroke-width="1.3" />
<line x1="262" y1="235.2" x2="309" y2="235.2" stroke-width="0.8" />
<g clip-path="url(#c10)">
<line x1="109.2" y1="168.5" x2="95.6" y2="182.1" stroke-width="1.3" />
<line x1="116" y1="168.5" x2="102.4" y2="182.1" stroke-width="1.3" />
<line x1="122.8" y1="168.5" x2="109.2" y2="182.1" stroke-width="1.3" />
<line x1="129.6" y1="168.5" x2="116" y2="182.1" stroke-width="1.3" />
<line x1="136.4" y1="168.5" x2="122.8" y2="182.1" stroke-width="1.3" />
<line x1="143.2" y1="168.5" x2="129.6" y2="182.1" stroke-width="1.3" />
<line x1="150" y1="168.5" x2="136.4" y2="182.1" stroke-width="1.3" />
<line x1="156.8" y1="168.5" x2="143.2" y2="182.1" stroke-width="1.3" />
<line x1="163.6" y1="168.5" x2="150" y2="182.1" stroke-width="1.3" />
<line x1="170.4" y1="168.5" x2="156.8" y2="182.1" stroke-width="1.3" />
</g>
<g clip-path="url(#c11)">
<line x1="88.6" y1="186.3" x2="102.9" y2="200.6" stroke-width="1.3" />
<line x1="95.3" y1="186.3" x2="109.6" y2="200.6" stroke-width="1.3" />
<line x1="102" y1="186.3" x2="116.3" y2="200.6" stroke-width="1.3" />
<line x1="108.7" y1="186.3" x2="123" y2="200.6" stroke-width="1.3" />
<line x1="115.4" y1="186.3" x2="129.7" y2="200.6" stroke-width="1.3" />
<line x1="122.1" y1="186.3" x2="136.4" y2="200.6" stroke-width="1.3" />
<line x1="128.8" y1="186.3" x2="143.1" y2="200.6" stroke-width="1.3" />
<line x1="135.5" y1="186.3" x2="149.8" y2="200.6" stroke-width="1.3" />
<line x1="142.2" y1="186.3" x2="156.5" y2="200.6" stroke-width="1.3" />
<line x1="148.9" y1="186.3" x2="163.2" y2="200.6" stroke-width="1.3" />
</g>
<polygon points="108.9,170.5 136.5,170.5 136.5,198.6 108.9,198.6" stroke-width="1.7" fill="none" />
<line x1="108.9" y1="180.1" x2="136.5" y2="180.1" stroke-width="1.3" />
<line x1="108.9" y1="188.3" x2="136.5" y2="188.3" stroke-width="1.3" />
<line x1="109.7" y1="182.1" x2="120.8" y2="182.1" stroke-width="1" />
<line x1="128.4" y1="182.1" x2="135.7" y2="182.1" stroke-width="1" />
<line x1="109.7" y1="186.5" x2="120.8" y2="186.5" stroke-width="1" />
<line x1="128.4" y1="186.5" x2="135.7" y2="186.5" stroke-width="1" />
<circle cx="124.6" cy="184.3" r="4.4" fill="#fff" stroke-width="1.2"/>
<path d="M125.2 182.1l-1.6 3.4M126.5 182.5l-1.4 3.2M125.6 181.7q1.6 1.2 0.6 3.2" stroke-width="0.6"/>
<g clip-path="url(#c12)">
<line x1="224.9" y1="168.5" x2="211.3" y2="182.1" stroke-width="1.3" />
<line x1="231.7" y1="168.5" x2="218.1" y2="182.1" stroke-width="1.3" />
<line x1="238.5" y1="168.5" x2="224.9" y2="182.1" stroke-width="1.3" />
<line x1="245.3" y1="168.5" x2="231.7" y2="182.1" stroke-width="1.3" />
<line x1="252.1" y1="168.5" x2="238.5" y2="182.1" stroke-width="1.3" />
<line x1="258.9" y1="168.5" x2="245.3" y2="182.1" stroke-width="1.3" />
<line x1="265.7" y1="168.5" x2="252.1" y2="182.1" stroke-width="1.3" />
<line x1="272.5" y1="168.5" x2="258.9" y2="182.1" stroke-width="1.3" />
<line x1="279.3" y1="168.5" x2="265.7" y2="182.1" stroke-width="1.3" />
<line x1="286.1" y1="168.5" x2="272.5" y2="182.1" stroke-width="1.3" />
</g>
<g clip-path="url(#c13)">
<line x1="204.3" y1="186.3" x2="218.6" y2="200.6" stroke-width="1.3" />
<line x1="211" y1="186.3" x2="225.3" y2="200.6" stroke-width="1.3" />
<line x1="217.7" y1="186.3" x2="232" y2="200.6" stroke-width="1.3" />
<line x1="224.4" y1="186.3" x2="238.7" y2="200.6" stroke-width="1.3" />
<line x1="231.1" y1="186.3" x2="245.4" y2="200.6" stroke-width="1.3" />
<line x1="237.8" y1="186.3" x2="252.1" y2="200.6" stroke-width="1.3" />
<line x1="244.5" y1="186.3" x2="258.8" y2="200.6" stroke-width="1.3" />
<line x1="251.2" y1="186.3" x2="265.5" y2="200.6" stroke-width="1.3" />
<line x1="257.9" y1="186.3" x2="272.2" y2="200.6" stroke-width="1.3" />
<line x1="264.6" y1="186.3" x2="278.9" y2="200.6" stroke-width="1.3" />
</g>
<polygon points="224.6,170.5 254,170.5 254,198.6 224.6,198.6" stroke-width="1.7" fill="none" />
<line x1="224.6" y1="180.1" x2="254" y2="180.1" stroke-width="1.3" />
<line x1="224.6" y1="188.3" x2="254" y2="188.3" stroke-width="1.3" />
<line x1="225.4" y1="182.2" x2="235.8" y2="182.2" stroke-width="1" />
<line x1="243.2" y1="182.2" x2="253.2" y2="182.2" stroke-width="1" />
<line x1="225.4" y1="186.6" x2="235.8" y2="186.6" stroke-width="1" />
<line x1="243.2" y1="186.6" x2="253.2" y2="186.6" stroke-width="1" />
<circle cx="239.5" cy="184.4" r="4.3" fill="#fff" stroke-width="1.2"/>
<path d="M240.1 182.2l-1.6 3.4M241.4 182.6l-1.4 3.2M240.5 181.8q1.6 1.2 0.6 3.2" stroke-width="0.6"/>
<g clip-path="url(#c14)">
<line x1="109.5" y1="252.8" x2="95.7" y2="266.6" stroke-width="1.3" />
<line x1="116.3" y1="252.8" x2="102.5" y2="266.6" stroke-width="1.3" />
<line x1="123.1" y1="252.8" x2="109.3" y2="266.6" stroke-width="1.3" />
<line x1="129.9" y1="252.8" x2="116.1" y2="266.6" stroke-width="1.3" />
<line x1="136.7" y1="252.8" x2="122.9" y2="266.6" stroke-width="1.3" />
<line x1="143.5" y1="252.8" x2="129.7" y2="266.6" stroke-width="1.3" />
<line x1="150.3" y1="252.8" x2="136.5" y2="266.6" stroke-width="1.3" />
<line x1="157.1" y1="252.8" x2="143.3" y2="266.6" stroke-width="1.3" />
<line x1="163.9" y1="252.8" x2="150.1" y2="266.6" stroke-width="1.3" />
<line x1="170.7" y1="252.8" x2="156.9" y2="266.6" stroke-width="1.3" />
</g>
<g clip-path="url(#c15)">
<line x1="88.7" y1="232" x2="102.5" y2="245.8" stroke-width="1.3" />
<line x1="95.4" y1="232" x2="109.2" y2="245.8" stroke-width="1.3" />
<line x1="102.1" y1="232" x2="115.9" y2="245.8" stroke-width="1.3" />
<line x1="108.8" y1="232" x2="122.6" y2="245.8" stroke-width="1.3" />
<line x1="115.5" y1="232" x2="129.3" y2="245.8" stroke-width="1.3" />
<line x1="122.2" y1="232" x2="136" y2="245.8" stroke-width="1.3" />
<line x1="128.9" y1="232" x2="142.7" y2="245.8" stroke-width="1.3" />
<line x1="135.6" y1="232" x2="149.4" y2="245.8" stroke-width="1.3" />
<line x1="142.3" y1="232" x2="156.1" y2="245.8" stroke-width="1.3" />
<line x1="149" y1="232" x2="162.8" y2="245.8" stroke-width="1.3" />
</g>
<polygon points="109,234 136.3,234 136.3,264.6 109,264.6" stroke-width="1.7" fill="none" />
<line x1="109" y1="254.8" x2="136.3" y2="254.8" stroke-width="1.3" />
<line x1="109" y1="243.8" x2="136.3" y2="243.8" stroke-width="1.3" />
<line x1="109.8" y1="247.1" x2="119" y2="247.1" stroke-width="1" />
<line x1="126.6" y1="247.1" x2="135.5" y2="247.1" stroke-width="1" />
<line x1="109.8" y1="251.5" x2="119" y2="251.5" stroke-width="1" />
<line x1="126.6" y1="251.5" x2="135.5" y2="251.5" stroke-width="1" />
<circle cx="122.8" cy="249.3" r="4.4" fill="#fff" stroke-width="1.2"/>
<path d="M123.4 247.1l-1.6 3.4M124.7 247.5l-1.4 3.2M123.8 246.7q1.6 1.2 0.6 3.2" stroke-width="0.6"/>
<g clip-path="url(#c16)">
<line x1="225.3" y1="252.6" x2="211.3" y2="266.6" stroke-width="1.3" />
<line x1="232.1" y1="252.6" x2="218.1" y2="266.6" stroke-width="1.3" />
<line x1="238.9" y1="252.6" x2="224.9" y2="266.6" stroke-width="1.3" />
<line x1="245.7" y1="252.6" x2="231.7" y2="266.6" stroke-width="1.3" />
<line x1="252.5" y1="252.6" x2="238.5" y2="266.6" stroke-width="1.3" />
<line x1="259.3" y1="252.6" x2="245.3" y2="266.6" stroke-width="1.3" />
<line x1="266.1" y1="252.6" x2="252.1" y2="266.6" stroke-width="1.3" />
<line x1="272.9" y1="252.6" x2="258.9" y2="266.6" stroke-width="1.3" />
<line x1="279.7" y1="252.6" x2="265.7" y2="266.6" stroke-width="1.3" />
<line x1="286.5" y1="252.6" x2="272.5" y2="266.6" stroke-width="1.3" />
</g>
<g clip-path="url(#c17)">
<line x1="204.3" y1="232" x2="218.9" y2="246.6" stroke-width="1.3" />
<line x1="211" y1="232" x2="225.6" y2="246.6" stroke-width="1.3" />
<line x1="217.7" y1="232" x2="232.3" y2="246.6" stroke-width="1.3" />
<line x1="224.4" y1="232" x2="239" y2="246.6" stroke-width="1.3" />
<line x1="231.1" y1="232" x2="245.7" y2="246.6" stroke-width="1.3" />
<line x1="237.8" y1="232" x2="252.4" y2="246.6" stroke-width="1.3" />
<line x1="244.5" y1="232" x2="259.1" y2="246.6" stroke-width="1.3" />
<line x1="251.2" y1="232" x2="265.8" y2="246.6" stroke-width="1.3" />
<line x1="257.9" y1="232" x2="272.5" y2="246.6" stroke-width="1.3" />
<line x1="264.6" y1="232" x2="279.2" y2="246.6" stroke-width="1.3" />
</g>
<polygon points="224.6,234 254,234 254,264.6 224.6,264.6" stroke-width="1.7" fill="none" />
<line x1="224.6" y1="254.6" x2="254" y2="254.6" stroke-width="1.3" />
<line x1="224.6" y1="244.6" x2="254" y2="244.6" stroke-width="1.3" />
<line x1="225.4" y1="247.6" x2="235.1" y2="247.6" stroke-width="1" />
<line x1="242.5" y1="247.6" x2="253.2" y2="247.6" stroke-width="1" />
<line x1="225.4" y1="252" x2="235.1" y2="252" stroke-width="1" />
<line x1="242.5" y1="252" x2="253.2" y2="252" stroke-width="1" />
<circle cx="238.8" cy="249.8" r="4.3" fill="#fff" stroke-width="1.2"/>
<path d="M239.4 247.6l-1.6 3.4M240.7 248l-1.4 3.2M239.8 247.2q1.6 1.2 0.6 3.2" stroke-width="0.6"/>
<rect x="105.2" y="166.7" width="3.8" height="7.1" fill="#000" stroke="none"/>
<rect x="105.2" y="194.3" width="3.8" height="7.3" fill="#000" stroke="none"/>
<rect x="136.4" y="194.3" width="4.1" height="7.3" fill="#000" stroke="none"/>
<rect x="220.2" y="194.4" width="5.2" height="7" fill="#000" stroke="none"/>
<rect x="252.4" y="167.2" width="4" height="7.6" fill="#000" stroke="none"/>
<rect x="105" y="231.6" width="4.2" height="6.8" fill="#000" stroke="none"/>
<rect x="105" y="262.5" width="4.3" height="6.8" fill="#000" stroke="none"/>
<rect x="134.8" y="231.6" width="4.2" height="6.8" fill="#000" stroke="none"/>
<rect x="220.4" y="231.6" width="4.4" height="7.4" fill="#000" stroke="none"/>
<rect x="252.9" y="261.8" width="4.3" height="6.5" fill="#000" stroke="none"/>
<line x1="99.5" y1="170.8" x2="105.4" y2="170.8" stroke-width="1.5" />
<line x1="100" y1="264.6" x2="105.4" y2="264.6" stroke-width="1.5" />
<line x1="103.2" y1="176.7" x2="106.4" y2="176.7" stroke-width="0.7" />
<line x1="103.2" y1="181" x2="106.4" y2="181" stroke-width="0.7" />
<line x1="103.2" y1="188.6" x2="106.4" y2="188.6" stroke-width="0.7" />
<line x1="103.2" y1="243" x2="106.4" y2="243" stroke-width="0.7" />
<line x1="103.2" y1="248" x2="106.4" y2="248" stroke-width="0.7" />
<line x1="103.2" y1="254" x2="106.4" y2="254" stroke-width="0.7" />
<line x1="104.9" y1="173.6" x2="104.9" y2="194.6" stroke-width="0.6" />
<line x1="104.9" y1="238.4" x2="104.9" y2="262.5" stroke-width="0.6" />
<line x1="137" y1="177.2" x2="224.6" y2="177.2" stroke-width="1.7" />
<line x1="137" y1="179.6" x2="224.6" y2="179.6" stroke-width="0.7" />
<line x1="137" y1="185.5" x2="224.6" y2="185.5" stroke-width="0.8" />
<line x1="152.5" y1="196.2" x2="187" y2="196.2" stroke-width="0.8" />
<line x1="136.3" y1="260.3" x2="224.6" y2="260.3" stroke-width="1.7" />
<line x1="136.3" y1="257.6" x2="224.6" y2="257.6" stroke-width="0.7" />
<line x1="136.3" y1="246.4" x2="224.6" y2="246.4" stroke-width="0.7" />
<line x1="146" y1="246.4" x2="212" y2="246.4" stroke-width="0.9" />
<line x1="254.2" y1="174.8" x2="254.2" y2="198.4" stroke-width="1.6" />
<line x1="254.2" y1="233.6" x2="254.2" y2="262" stroke-width="1.6" />
<line x1="254" y1="170.8" x2="262" y2="170.8" stroke-width="1" />
<line x1="254" y1="264.6" x2="261.5" y2="264.6" stroke-width="1" />
<g clip-path="url(#c18)">
<line x1="382.3" y1="105.8" x2="306.41" y2="181.69" stroke-width="1.1" />
<line x1="399" y1="105.8" x2="323.11" y2="181.69" stroke-width="1.1" />
<line x1="417.7" y1="105.8" x2="341.81" y2="181.69" stroke-width="1.1" />
<line x1="434.2" y1="105.8" x2="358.31" y2="181.69" stroke-width="1.1" />
<line x1="449.7" y1="105.8" x2="373.81" y2="181.69" stroke-width="1.1" />
<line x1="467.7" y1="105.8" x2="391.81" y2="181.69" stroke-width="1.1" />
<line x1="485.9" y1="105.8" x2="410.01" y2="181.69" stroke-width="1.1" />
<line x1="504.4" y1="105.8" x2="428.51" y2="181.69" stroke-width="1.1" />
<line x1="520.7" y1="105.8" x2="444.81" y2="181.69" stroke-width="1.1" />
<line x1="540.5" y1="105.8" x2="464.61" y2="181.69" stroke-width="1.1" />
<line x1="557.1" y1="105.8" x2="481.21" y2="181.69" stroke-width="1.1" />
<line x1="574.5" y1="105.8" x2="498.61" y2="181.69" stroke-width="1.1" />
<line x1="592.4" y1="105.8" x2="516.51" y2="181.69" stroke-width="1.1" />
<line x1="609.8" y1="105.8" x2="533.91" y2="181.69" stroke-width="1.1" />
<line x1="627.3" y1="105.8" x2="551.41" y2="181.69" stroke-width="1.1" />
<line x1="643.9" y1="105.8" x2="568.01" y2="181.69" stroke-width="1.1" />
<line x1="661.3" y1="105.8" x2="585.41" y2="181.69" stroke-width="1.1" />
<line x1="678.8" y1="105.8" x2="602.91" y2="181.69" stroke-width="1.1" />
<line x1="691.4" y1="105.8" x2="615.51" y2="181.69" stroke-width="1.1" />
<line x1="714.7" y1="105.8" x2="638.81" y2="181.69" stroke-width="1.1" />
</g>
<polyline points="354.4,114.6 410,114.67 415.7,107.8 422.2,121.2 427,114.8 502.6,115.37 508.3,109.2 514,122.4 519.7,115.5 582,115.96 587.6,109.4 590.5,121 595.6,116.2 637,116.2" stroke-width="1.1" />
<polyline points="617,116.2 659.2,158.4" stroke-width="1.6" />
<g clip-path="url(#c19)">
<line x1="391.45" y1="250.95" x2="325.3" y2="317.1" stroke-width="1.1" />
<line x1="409.02" y1="250.95" x2="342.87" y2="317.1" stroke-width="1.1" />
<line x1="426.59" y1="250.95" x2="360.44" y2="317.1" stroke-width="1.1" />
<line x1="444.16" y1="250.95" x2="378.01" y2="317.1" stroke-width="1.1" />
<line x1="461.73" y1="250.95" x2="395.58" y2="317.1" stroke-width="1.1" />
<line x1="479.3" y1="250.95" x2="413.15" y2="317.1" stroke-width="1.1" />
<line x1="496.87" y1="250.95" x2="430.72" y2="317.1" stroke-width="1.1" />
<line x1="514.44" y1="250.95" x2="448.29" y2="317.1" stroke-width="1.1" />
<line x1="532.01" y1="250.95" x2="465.86" y2="317.1" stroke-width="1.1" />
<line x1="549.58" y1="250.95" x2="483.43" y2="317.1" stroke-width="1.1" />
<line x1="567.15" y1="250.95" x2="501" y2="317.1" stroke-width="1.1" />
<line x1="584.72" y1="250.95" x2="518.57" y2="317.1" stroke-width="1.1" />
<line x1="602.29" y1="250.95" x2="536.14" y2="317.1" stroke-width="1.1" />
<line x1="619.86" y1="250.95" x2="553.71" y2="317.1" stroke-width="1.1" />
<line x1="637.43" y1="250.95" x2="571.28" y2="317.1" stroke-width="1.1" />
<line x1="655" y1="250.95" x2="588.85" y2="317.1" stroke-width="1.1" />
<line x1="672.57" y1="250.95" x2="606.42" y2="317.1" stroke-width="1.1" />
<line x1="690.14" y1="250.95" x2="623.99" y2="317.1" stroke-width="1.1" />
</g>
<polyline points="354.3,311.45 413.9,309.33 415.5,304 419.7,315.1 424.8,308.95 524,305.43 534.7,300.8 535.7,311.3 542,304.79 651,300.92" stroke-width="1.1" />
<polyline points="659,280.8 636.6,302.2" stroke-width="1.8" />
<line x1="659" y1="158" x2="659" y2="281" stroke-width="2" />
<line x1="344" y1="114.65" x2="355" y2="114.65" stroke-width="1.1" />
<line x1="344.6" y1="311.78" x2="355" y2="311.43" stroke-width="1.1" />
<line x1="344.9" y1="114.6" x2="344.9" y2="156.4" stroke-width="2" />
<line x1="354.2" y1="114.6" x2="354.2" y2="156.4" stroke-width="1.2" />
<line x1="349" y1="122" x2="349" y2="150" stroke-width="0.6" />
<line x1="345.6" y1="276.6" x2="345.6" y2="311.76" stroke-width="2" />
<line x1="354.3" y1="276.6" x2="354.3" y2="311.45" stroke-width="1.2" />
<line x1="348.8" y1="282" x2="348.8" y2="310" stroke-width="0.6" />
<polyline points="308.2,198 308.2,157.5 393,157.5 659,179.98" stroke-width="1.9" />
<polyline points="309,160.1 393,160.1 658,182.4" stroke-width="0.9" />
<polyline points="308.6,234 308.6,275.6 395,275.6 659,252.65" stroke-width="1.9" />
<polyline points="309.5,272.9 395,272.9 658,249.6" stroke-width="0.9" />
<line x1="658" y1="182.3" x2="697" y2="186.7" stroke-width="0.9" />
<line x1="635.7" y1="185.2" x2="697.6" y2="191.3" stroke-width="0.9" />
<polygon points="313,163.4 325.8,174.6 332,163.4 344.75,174.6 350.9,163.4 363.89,174.6 369.6,163.4 382.74,174.6 388,163.4 400.67,174.88 405.5,164.18 419.98,176.89 424.4,166.15 439.73,178.94 443.7,168.15 458.4,180.88 462,170.06 477.8,182.9 481.4,172.07 497.2,184.92 500.8,174.09 516.4,186.91 520,176.09 535.2,188.5 538.8,177.59 553.4,189.96 557,179.05 572.9,191.52 576.5,180.61 592.2,193.06 595.8,182.15 612.7,194.7 616.3,183.79 632.1,196.26 635.7,185.34 648.6,197.58 652.6,186.6 652.6,241.6 647,244.98 638,237.15 629.1,246.71 620.1,238.88 611.3,248.43 602.3,240.6 593.4,250.15 584.4,242.32 573.5,252.07 564.5,244.24 554.6,253.9 545.6,246.07 535.7,255.72 526.7,247.89 517.8,257.45 508.8,249.62 499.6,259.21 490.5,251.38 480.2,261.08 470.95,253.27 462,262.83 452.62,255.04 442.6,264.71 433.07,256.93 424.4,266.46 414.74,258.7 406.2,268.22 396.4,260.46 389.1,269.3 379.17,260.6 370.7,269.3 360.63,260.6 351.8,269.3 341.59,260.6 332.8,269.3 322.45,260.6 313.4,269.3" fill="#fff" stroke="none"/>
<g clip-path="url(#c20)">
<line x1="312" y1="215.2" x2="671" y2="214.8" stroke-width="0.8" />
<line x1="294.7" y1="168.4" x2="311.3" y2="264.7" stroke-width="1.3" />
<line x1="313.7" y1="168.4" x2="330.7" y2="264.7" stroke-width="1.3" />
<line x1="332.7" y1="168.4" x2="349.7" y2="264.7" stroke-width="1.3" />
<line x1="351.6" y1="168.4" x2="368.6" y2="264.7" stroke-width="1.3" />
<line x1="370.3" y1="168.4" x2="387" y2="264.7" stroke-width="1.3" />
<line x1="388.7" y1="168.4" x2="404.1" y2="263.62" stroke-width="1.3" />
<line x1="406.2" y1="169.18" x2="422.3" y2="261.86" stroke-width="1.3" />
<line x1="425.1" y1="171.15" x2="440.5" y2="260.11" stroke-width="1.3" />
<line x1="444.4" y1="173.15" x2="459.9" y2="258.23" stroke-width="1.3" />
<line x1="462.7" y1="175.06" x2="478.1" y2="256.48" stroke-width="1.3" />
<line x1="482.1" y1="177.07" x2="497.5" y2="254.61" stroke-width="1.3" />
<line x1="501.5" y1="179.09" x2="515.7" y2="252.85" stroke-width="1.3" />
<line x1="520.7" y1="181.09" x2="533.6" y2="251.12" stroke-width="1.3" />
<line x1="539.5" y1="182.59" x2="552.5" y2="249.3" stroke-width="1.3" />
<line x1="557.7" y1="184.05" x2="571.4" y2="247.47" stroke-width="1.3" />
<line x1="577.2" y1="185.61" x2="591.3" y2="245.55" stroke-width="1.3" />
<line x1="596.5" y1="187.15" x2="609.2" y2="243.83" stroke-width="1.3" />
<line x1="617" y1="188.79" x2="627" y2="242.11" stroke-width="1.3" />
<line x1="636.4" y1="190.34" x2="644.9" y2="240.38" stroke-width="1.3" />
<line x1="652.9" y1="191.66" x2="663.4" y2="238.6" stroke-width="1.3" />
<line x1="671.7" y1="193.17" x2="681.9" y2="236.81" stroke-width="1.3" />
<line x1="307.2" y1="179.4" x2="321.55" y2="257.6" stroke-width="1.3" />
<line x1="326.2" y1="179.4" x2="340.69" y2="257.6" stroke-width="1.3" />
<line x1="345.15" y1="179.4" x2="359.73" y2="257.6" stroke-width="1.3" />
<line x1="364.29" y1="179.4" x2="378.27" y2="257.6" stroke-width="1.3" />
<line x1="383.14" y1="179.4" x2="395.5" y2="257.46" stroke-width="1.3" />
<line x1="401.07" y1="179.68" x2="413.84" y2="255.7" stroke-width="1.3" />
<line x1="420.38" y1="181.69" x2="432.17" y2="253.93" stroke-width="1.3" />
<line x1="440.13" y1="183.74" x2="451.72" y2="252.04" stroke-width="1.3" />
<line x1="458.8" y1="185.68" x2="470.05" y2="250.27" stroke-width="1.3" />
<line x1="478.2" y1="187.7" x2="489.6" y2="248.38" stroke-width="1.3" />
<line x1="497.6" y1="189.72" x2="507.9" y2="246.62" stroke-width="1.3" />
<line x1="516.8" y1="191.71" x2="525.8" y2="244.89" stroke-width="1.3" />
<line x1="535.6" y1="193.3" x2="544.7" y2="243.07" stroke-width="1.3" />
<line x1="553.8" y1="194.76" x2="563.6" y2="241.24" stroke-width="1.3" />
<line x1="573.3" y1="196.32" x2="583.5" y2="239.32" stroke-width="1.3" />
<line x1="592.6" y1="197.86" x2="601.4" y2="237.6" stroke-width="1.3" />
<line x1="613.1" y1="199.5" x2="619.2" y2="235.88" stroke-width="1.3" />
<line x1="632.5" y1="201.06" x2="637.1" y2="234.15" stroke-width="1.3" />
<line x1="649" y1="202.38" x2="655.6" y2="232.37" stroke-width="1.3" />
<line x1="667.8" y1="203.88" x2="674.1" y2="230.58" stroke-width="1.3" />
<polyline points="294.7,168.4 307.2,179.4 313.7,168.4 326.2,179.4 332.7,168.4 345.15,179.4 351.6,168.4 364.29,179.4 370.3,168.4 383.14,179.4 388.7,168.4 401.07,179.68 406.2,169.18 420.38,181.69 425.1,171.15 440.13,183.74 444.4,173.15 458.8,185.68 462.7,175.06 478.2,187.7 482.1,177.07 497.6,189.72 501.5,179.09 516.8,191.71 520.7,181.09 535.6,193.3 539.5,182.59 553.8,194.76 557.7,184.05 573.3,196.32 577.2,185.61 592.6,197.86 596.5,187.15 613.1,199.5 617,188.79 632.5,201.06 636.4,190.34 649,202.38 652.9,191.66 667.8,203.88 671.7,193.17 686.76,205.4" stroke-width="1.25" />
<polyline points="283,257.6 292.3,264.7 302,257.6 311.3,264.7 321.55,257.6 330.7,264.7 340.69,257.6 349.7,264.7 359.73,257.6 368.6,264.7 378.27,257.6 387,264.7 395.5,257.46 404.1,263.62 413.84,255.7 422.3,261.86 432.17,253.93 440.5,260.11 451.72,252.04 459.9,258.23 470.05,250.27 478.1,256.48 489.6,248.38 497.5,254.61 507.9,246.62 515.7,252.85 525.8,244.89 533.6,251.12 544.7,243.07 552.5,249.3 563.6,241.24 571.4,247.47 583.5,239.32 591.3,245.55 601.4,237.6 609.2,243.83 619.2,235.88 627,242.11 637.1,234.15 644.9,240.38 655.6,232.37 663.4,238.6 674.1,230.58 681.9,236.81" stroke-width="1.25" />
<line x1="296.2" y1="171.62" x2="307" y2="181" stroke-width="0.6" />
<line x1="297.45" y1="174.62" x2="306.8" y2="182.6" stroke-width="0.6" />
<line x1="298.95" y1="177.84" x2="306.6" y2="184.2" stroke-width="0.6" />
<line x1="315.2" y1="171.62" x2="326" y2="181" stroke-width="0.6" />
<line x1="316.45" y1="174.62" x2="325.8" y2="182.6" stroke-width="0.6" />
<line x1="317.95" y1="177.84" x2="325.6" y2="184.2" stroke-width="0.6" />
<line x1="334.19" y1="171.62" x2="344.95" y2="181" stroke-width="0.6" />
<line x1="335.44" y1="174.62" x2="344.75" y2="182.6" stroke-width="0.6" />
<line x1="336.93" y1="177.84" x2="344.55" y2="184.2" stroke-width="0.6" />
<line x1="353.12" y1="171.62" x2="364.09" y2="181" stroke-width="0.6" />
<line x1="354.39" y1="174.62" x2="363.89" y2="182.6" stroke-width="0.6" />
<line x1="355.92" y1="177.84" x2="363.69" y2="184.2" stroke-width="0.6" />
<line x1="371.84" y1="171.62" x2="382.94" y2="181" stroke-width="0.6" />
<line x1="373.12" y1="174.62" x2="382.74" y2="182.6" stroke-width="0.6" />
<line x1="374.66" y1="177.84" x2="382.54" y2="184.2" stroke-width="0.6" />
<line x1="390.18" y1="171.65" x2="400.87" y2="181.28" stroke-width="0.6" />
<line x1="391.42" y1="174.68" x2="400.67" y2="182.88" stroke-width="0.6" />
<line x1="392.91" y1="177.93" x2="400.47" y2="184.48" stroke-width="0.6" />
<line x1="407.9" y1="172.58" x2="420.18" y2="183.29" stroke-width="0.6" />
<line x1="409.32" y1="175.73" x2="419.98" y2="184.89" stroke-width="0.6" />
<line x1="411.02" y1="179.13" x2="419.78" y2="186.49" stroke-width="0.6" />
<line x1="426.9" y1="174.56" x2="439.93" y2="185.34" stroke-width="0.6" />
<line x1="428.41" y1="177.72" x2="439.73" y2="186.94" stroke-width="0.6" />
<line x1="430.21" y1="181.13" x2="439.53" y2="188.54" stroke-width="0.6" />
<line x1="446.13" y1="176.56" x2="458.6" y2="187.28" stroke-width="0.6" />
<line x1="447.57" y1="179.71" x2="458.4" y2="188.88" stroke-width="0.6" />
<line x1="449.3" y1="183.11" x2="458.2" y2="190.48" stroke-width="0.6" />
<line x1="464.56" y1="178.47" x2="478" y2="189.3" stroke-width="0.6" />
<line x1="466.11" y1="181.64" x2="477.8" y2="190.9" stroke-width="0.6" />
<line x1="467.97" y1="185.05" x2="477.6" y2="192.5" stroke-width="0.6" />
<line x1="483.96" y1="180.49" x2="497.4" y2="191.32" stroke-width="0.6" />
<line x1="485.51" y1="183.66" x2="497.2" y2="192.92" stroke-width="0.6" />
<line x1="487.37" y1="187.07" x2="497" y2="194.52" stroke-width="0.6" />
<line x1="503.34" y1="182.51" x2="516.6" y2="193.31" stroke-width="0.6" />
<line x1="504.87" y1="185.67" x2="516.4" y2="194.91" stroke-width="0.6" />
<line x1="506.7" y1="189.08" x2="516.2" y2="196.51" stroke-width="0.6" />
<line x1="522.49" y1="184.45" x2="535.4" y2="194.9" stroke-width="0.6" />
<line x1="523.98" y1="187.58" x2="535.2" y2="196.5" stroke-width="0.6" />
<line x1="525.77" y1="190.94" x2="535" y2="198.1" stroke-width="0.6" />
<line x1="541.22" y1="185.95" x2="553.6" y2="196.36" stroke-width="0.6" />
<line x1="542.65" y1="189.07" x2="553.4" y2="197.96" stroke-width="0.6" />
<line x1="544.36" y1="192.43" x2="553.2" y2="199.56" stroke-width="0.6" />
<line x1="559.57" y1="187.42" x2="573.1" y2="197.92" stroke-width="0.6" />
<line x1="561.13" y1="190.55" x2="572.9" y2="199.52" stroke-width="0.6" />
<line x1="563" y1="193.92" x2="572.7" y2="201.12" stroke-width="0.6" />
<line x1="579.05" y1="188.98" x2="592.4" y2="199.46" stroke-width="0.6" />
<line x1="580.59" y1="192.1" x2="592.2" y2="201.06" stroke-width="0.6" />
<line x1="582.44" y1="195.48" x2="592" y2="202.66" stroke-width="0.6" />
<line x1="598.49" y1="190.53" x2="612.9" y2="201.1" stroke-width="0.6" />
<line x1="600.15" y1="193.67" x2="612.7" y2="202.7" stroke-width="0.6" />
<line x1="602.14" y1="197.05" x2="612.5" y2="204.3" stroke-width="0.6" />
<line x1="618.86" y1="192.16" x2="632.3" y2="202.66" stroke-width="0.6" />
<line x1="620.41" y1="195.29" x2="632.1" y2="204.26" stroke-width="0.6" />
<line x1="622.27" y1="198.66" x2="631.9" y2="205.86" stroke-width="0.6" />
<line x1="637.91" y1="193.69" x2="648.8" y2="203.98" stroke-width="0.6" />
<line x1="639.17" y1="196.79" x2="648.6" y2="205.58" stroke-width="0.6" />
<line x1="640.68" y1="200.13" x2="648.4" y2="207.18" stroke-width="0.6" />
<line x1="654.69" y1="195.03" x2="667.6" y2="205.48" stroke-width="0.6" />
<line x1="656.18" y1="198.15" x2="667.4" y2="207.08" stroke-width="0.6" />
<line x1="657.97" y1="201.52" x2="667.2" y2="208.68" stroke-width="0.6" />
<line x1="673.51" y1="196.54" x2="686.56" y2="207" stroke-width="0.6" />
<line x1="675.01" y1="199.66" x2="686.36" y2="208.6" stroke-width="0.6" />
<line x1="676.82" y1="203.03" x2="686.16" y2="210.2" stroke-width="0.6" />
<line x1="292.6" y1="263.1" x2="301.03" y2="256.41" stroke-width="0.6" />
<line x1="292.9" y1="261.5" x2="299.87" y2="255.36" stroke-width="0.6" />
<line x1="286.25" y1="258.19" x2="292" y2="263" stroke-width="0.55" />
<line x1="311.6" y1="263.1" x2="320.52" y2="256.41" stroke-width="0.6" />
<line x1="311.9" y1="261.5" x2="319.29" y2="255.36" stroke-width="0.6" />
<line x1="305.26" y1="258.19" x2="311" y2="263" stroke-width="0.55" />
<line x1="331" y1="263.1" x2="339.69" y2="256.41" stroke-width="0.6" />
<line x1="331.3" y1="261.5" x2="338.49" y2="255.36" stroke-width="0.6" />
<line x1="324.75" y1="258.19" x2="330.4" y2="263" stroke-width="0.55" />
<line x1="350" y1="263.1" x2="358.73" y2="256.41" stroke-width="0.6" />
<line x1="350.3" y1="261.5" x2="357.53" y2="255.36" stroke-width="0.6" />
<line x1="343.84" y1="258.19" x2="349.4" y2="263" stroke-width="0.55" />
<line x1="368.9" y1="263.1" x2="377.3" y2="256.41" stroke-width="0.6" />
<line x1="369.2" y1="261.5" x2="376.14" y2="255.36" stroke-width="0.6" />
<line x1="362.84" y1="258.19" x2="368.3" y2="263" stroke-width="0.55" />
<line x1="387.3" y1="263.1" x2="394.65" y2="256.29" stroke-width="0.6" />
<line x1="387.6" y1="261.5" x2="393.63" y2="255.26" stroke-width="0.6" />
<line x1="381.33" y1="258.19" x2="386.7" y2="263" stroke-width="0.55" />
<line x1="404.4" y1="262.02" x2="412.86" y2="254.59" stroke-width="0.6" />
<line x1="404.7" y1="260.42" x2="411.69" y2="253.64" stroke-width="0.6" />
<line x1="398.51" y1="257.72" x2="403.8" y2="261.92" stroke-width="0.55" />
<line x1="422.6" y1="260.26" x2="431.18" y2="252.82" stroke-width="0.6" />
<line x1="422.9" y1="258.66" x2="430" y2="251.87" stroke-width="0.6" />
<line x1="416.8" y1="255.95" x2="422" y2="260.16" stroke-width="0.55" />
<line x1="440.8" y1="258.51" x2="450.6" y2="250.95" stroke-width="0.6" />
<line x1="441.1" y1="256.91" x2="449.25" y2="250.01" stroke-width="0.6" />
<line x1="435.09" y1="254.19" x2="440.2" y2="258.41" stroke-width="0.55" />
<line x1="460.2" y1="256.63" x2="469.04" y2="249.17" stroke-width="0.6" />
<line x1="460.5" y1="255.03" x2="467.82" y2="248.22" stroke-width="0.6" />
<line x1="454.58" y1="252.31" x2="459.6" y2="256.53" stroke-width="0.55" />
<line x1="478.4" y1="254.88" x2="488.45" y2="247.29" stroke-width="0.6" />
<line x1="478.7" y1="253.28" x2="487.07" y2="246.36" stroke-width="0.6" />
<line x1="472.87" y1="250.54" x2="477.8" y2="254.78" stroke-width="0.55" />
<line x1="497.8" y1="253.01" x2="506.86" y2="245.52" stroke-width="0.6" />
<line x1="498.1" y1="251.41" x2="505.61" y2="244.58" stroke-width="0.6" />
<line x1="492.36" y1="248.66" x2="497.2" y2="252.91" stroke-width="0.55" />
<line x1="516" y1="251.25" x2="524.79" y2="243.79" stroke-width="0.6" />
<line x1="516.3" y1="249.65" x2="523.58" y2="242.84" stroke-width="0.6" />
<line x1="510.63" y1="246.9" x2="515.4" y2="251.15" stroke-width="0.55" />
<line x1="533.9" y1="249.52" x2="543.59" y2="241.97" stroke-width="0.6" />
<line x1="534.2" y1="247.92" x2="542.26" y2="241.04" stroke-width="0.6" />
<line x1="528.53" y1="245.17" x2="533.3" y2="249.42" stroke-width="0.55" />
<line x1="552.8" y1="247.7" x2="562.49" y2="240.15" stroke-width="0.6" />
<line x1="553.1" y1="246.1" x2="561.16" y2="239.22" stroke-width="0.6" />
<line x1="547.43" y1="243.35" x2="552.2" y2="247.6" stroke-width="0.55" />
<line x1="571.7" y1="245.87" x2="582.29" y2="238.24" stroke-width="0.6" />
<line x1="572" y1="244.27" x2="580.84" y2="237.32" stroke-width="0.6" />
<line x1="566.33" y1="241.52" x2="571.1" y2="245.77" stroke-width="0.55" />
<line x1="591.6" y1="243.95" x2="600.39" y2="236.49" stroke-width="0.6" />
<line x1="591.9" y1="242.35" x2="599.18" y2="235.55" stroke-width="0.6" />
<line x1="586.23" y1="239.6" x2="591" y2="243.85" stroke-width="0.55" />
<line x1="609.5" y1="242.23" x2="618.2" y2="234.77" stroke-width="0.6" />
<line x1="609.8" y1="240.63" x2="617" y2="233.83" stroke-width="0.6" />
<line x1="604.13" y1="237.88" x2="608.9" y2="242.13" stroke-width="0.55" />
<line x1="627.3" y1="240.51" x2="636.09" y2="233.05" stroke-width="0.6" />
<line x1="627.6" y1="238.91" x2="634.88" y2="232.1" stroke-width="0.6" />
<line x1="621.93" y1="236.16" x2="626.7" y2="240.41" stroke-width="0.55" />
<line x1="645.2" y1="238.78" x2="654.53" y2="231.27" stroke-width="0.6" />
<line x1="645.5" y1="237.18" x2="653.25" y2="230.33" stroke-width="0.6" />
<line x1="639.83" y1="234.43" x2="644.6" y2="238.68" stroke-width="0.55" />
<line x1="663.7" y1="237" x2="673.03" y2="229.48" stroke-width="0.6" />
<line x1="664" y1="235.4" x2="671.75" y2="228.54" stroke-width="0.6" />
<line x1="658.33" y1="232.65" x2="663.1" y2="236.9" stroke-width="0.55" />
</g>
<g clip-path="url(#c21)">
<polyline points="294,163.4 306.8,174.6 313,163.4 325.8,174.6 332,163.4 344.75,174.6 350.9,163.4 363.89,174.6 369.6,163.4 382.74,174.6 388,163.4 400.67,174.88 405.5,164.18 419.98,176.89 424.4,166.15 439.73,178.94 443.7,168.15 458.4,180.88 462,170.06 477.8,182.9 481.4,172.07 497.2,184.92 500.8,174.09 516.4,186.91 520,176.09 535.2,188.5 538.8,177.59 553.4,189.96 557,179.05 572.9,191.52 576.5,180.61 592.2,193.06 595.8,182.15 612.7,194.7 616.3,183.79 632.1,196.26 635.7,185.34 648.6,197.58 652.2,186.66 667.4,199.08 671,188.17 686.36,200.6" stroke-width="1.8" />
<polyline points="283.9,260.6 294.4,269.3 302.9,260.6 313.4,269.3 322.45,260.6 332.8,269.3 341.59,260.6 351.8,269.3 360.63,260.6 370.7,269.3 379.17,260.6 389.1,269.3 396.4,260.46 406.2,268.22 414.74,258.7 424.4,266.46 433.07,256.93 442.6,264.71 452.62,255.04 462,262.83 470.95,253.27 480.2,261.08 490.5,251.38 499.6,259.21 508.8,249.62 517.8,257.45 526.7,247.89 535.7,255.72 545.6,246.07 554.6,253.9 564.5,244.24 573.5,252.07 584.4,242.32 593.4,250.15 602.3,240.6 611.3,248.43 620.1,238.88 629.1,246.71 638,237.15 647,244.98 656.5,235.37 665.5,243.2 675,233.58 684,241.41" stroke-width="1.8" />
</g>
<line x1="312.9" y1="163" x2="312.9" y2="269.8" stroke-width="1.5" />
<line x1="652.6" y1="186.2" x2="652.6" y2="242" stroke-width="2" />
<circle cx="541.3" cy="176.4" r="11.8" stroke-width="0.8" stroke-dasharray="7 1.6 1.2 1.6"/>
<line x1="694.2" y1="165.9" x2="692.7" y2="183" stroke-width="0.9" />
<line x1="692" y1="194" x2="690.1" y2="209.7" stroke-width="0.9" />
<polygon points="692.6,186.2 690.6,176.2 695.8,176.6" fill="#000" stroke="none"/>
<polygon points="692.1,190.9 688.7,199.8 693.7,200.4" fill="#000" stroke="none"/>
<line x1="71.2" y1="86.1" x2="99.7" y2="141" stroke-width="0.85" />
<line x1="60.4" y1="109.7" x2="85" y2="155" stroke-width="0.85" />
<line x1="17" y1="136.8" x2="30.8" y2="157" stroke-width="0.85" />
<line x1="35.2" y1="164.5" x2="36.8" y2="167.7" stroke-width="0.85" />
<line x1="141.6" y1="92.6" x2="125.6" y2="180" stroke-width="0.85" />
<line x1="178.9" y1="82.1" x2="178.9" y2="155.4" stroke-width="0.85" />
<line x1="239.9" y1="85" x2="208.2" y2="157.2" stroke-width="0.85" />
<line x1="209.3" y1="155.2" x2="205.7" y2="163.2" stroke-width="2.4"/>
<line x1="279.8" y1="97" x2="241" y2="181" stroke-width="0.85" />
<line x1="316.8" y1="84.2" x2="306.8" y2="124" stroke-width="0.85" />
<line x1="361" y1="79.9" x2="348" y2="122.6" stroke-width="0.85" />
<line x1="460.4" y1="73.6" x2="443.5" y2="106" stroke-width="0.85" />
<polygon points="440.7,111.4 442.6,101.2 447.6,103.8" fill="#000" stroke="none"/>
<line x1="532.5" y1="82.7" x2="507.3" y2="146.2" stroke-width="0.85" />
<line x1="677.4" y1="125.6" x2="627" y2="175.5" stroke-width="0.85" />
<line x1="342.7" y1="348.3" x2="350" y2="298.7" stroke-width="0.85" />
<line x1="380.6" y1="352.6" x2="410.8" y2="241" stroke-width="0.85" />
<line x1="425.4" y1="347" x2="437.6" y2="268" stroke-width="0.85" />
<line x1="476.6" y1="335" x2="491.6" y2="240" stroke-width="0.85" />
<line x1="205.5" y1="375.4" x2="200.3" y2="215.6" stroke-width="0.85" />
<line x1="86.3" y1="375.5" x2="86.9" y2="413.8" stroke-width="0.85" />
<path transform="translate(62.4 68.5) scale(1)" d="M0.2 2.9L2.95 0.9V15.6" stroke-width="1.7" stroke-linejoin="round"/>
<path transform="translate(68.5 68.5) scale(1)" d="M0.95 4.2C0.9 1.9 1.9 0.85 3.6 0.85C5.3 0.85 6.25 1.9 6.25 3.9C6.25 5.5 5.7 6.6 4.9 8L1.2 14.75H6.9" stroke-width="1.7" stroke-linejoin="round"/>
<path transform="translate(52.6 92.9) scale(1)" d="M0.2 2.9L2.95 0.9V15.6" stroke-width="1.7" stroke-linejoin="round"/>
<path transform="translate(58.7 92.9) scale(1)" d="M6.3 0.85H1.75L1.3 7.4C1.8 6.4 2.6 5.95 3.6 5.95C5.4 5.95 6.15 7.4 6.15 10.3C6.15 13.3 5.3 14.75 3.5 14.75C1.9 14.75 1 13.8 0.85 12" stroke-width="1.7" stroke-linejoin="round"/>
<path transform="translate(9.4 120.2) scale(1)" d="M0.2 2.9L2.95 0.9V15.6" stroke-width="1.7" stroke-linejoin="round"/>
<path transform="translate(15.5 120.2) scale(1)" d="M0.9 3.6C1 1.8 1.9 0.85 3.4 0.85C5.1 0.85 6 1.9 6 3.9C6 6 5 7.2 3.1 7.2C5.2 7.2 6.15 8.6 6.15 11C6.15 13.5 5.2 14.75 3.4 14.75C1.8 14.75 0.9 13.8 0.8 12" stroke-width="1.7" stroke-linejoin="round"/>
<path transform="translate(137.6 75.7) scale(1)" d="M0.2 2.9L2.95 0.9V15.6" stroke-width="1.7" stroke-linejoin="round"/>
<path transform="translate(143.7 75.7) scale(1)" d="M3.4 0.85C1.5 0.85 0.85 2.2 0.85 4.4V11.2C0.85 13.4 1.5 14.75 3.4 14.75C5.3 14.75 5.95 13.4 5.95 11.2V4.4C5.95 2.2 5.3 0.85 3.4 0.85Z" stroke-width="1.7" stroke-linejoin="round"/>
<path transform="translate(173.8 65.7) scale(1)" d="M0.2 2.9L2.95 0.9V15.6" stroke-width="1.7" stroke-linejoin="round"/>
<path transform="translate(179.9 65.7) scale(1)" d="M0.2 2.9L2.95 0.9V15.6" stroke-width="1.7" stroke-linejoin="round"/>
<path transform="translate(238 67.7) scale(1)" d="M3.45 7.1C1.8 7.1 1.1 6 1.1 4C1.1 2 1.9 0.85 3.45 0.85C5 0.85 5.8 2 5.8 4C5.8 6 5.1 7.1 3.45 7.1C1.6 7.1 0.85 8.6 0.85 11C0.85 13.4 1.7 14.75 3.45 14.75C5.2 14.75 6.05 13.4 6.05 11C6.05 8.6 5.3 7.1 3.45 7.1Z" stroke-width="1.7" stroke-linejoin="round"/>
<path d="M248.8 64.4q1.7 0.2 1.3 2.6q-0.5 2.6 -2.2 3.9" stroke-width="1.6" stroke-linecap="round"/>
<path transform="translate(277.8 80.1) scale(1) translate(6.9 15.6) rotate(180)" d="M5.95 3.6C5.8 1.8 5 0.85 3.6 0.85C1.7 0.85 0.85 2.4 0.85 5V10.8C0.85 13.4 1.7 14.75 3.5 14.75C5.3 14.75 6.1 13.4 6.1 10.6C6.1 7.9 5.3 6.6 3.6 6.6C2.2 6.6 1.2 7.5 0.85 9" stroke-width="1.7" stroke-linejoin="round"/>
<path transform="translate(315 67.2) scale(1)" d="M0.9 3.6C1 1.8 1.9 0.85 3.4 0.85C5.1 0.85 6 1.9 6 3.9C6 6 5 7.2 3.1 7.2C5.2 7.2 6.15 8.6 6.15 11C6.15 13.5 5.2 14.75 3.4 14.75C1.8 14.75 0.9 13.8 0.8 12" stroke-width="1.7" stroke-linejoin="round"/>
<path transform="translate(359 63) scale(1)" d="M3.7 0L1.25 12.3H7.4M5.8 8.2V15.6" stroke-width="1.7" stroke-linejoin="round"/>
<path transform="translate(458.2 56.4) scale(1)" d="M0.2 2.9L2.95 0.9V15.6" stroke-width="1.7" stroke-linejoin="round"/>
<path transform="translate(529.8 65) scale(1)" d="M0.95 4.2C0.9 1.9 1.9 0.85 3.6 0.85C5.3 0.85 6.25 1.9 6.25 3.9C6.25 5.5 5.7 6.6 4.9 8L1.2 14.75H6.9" stroke-width="1.7" stroke-linejoin="round"/>
<path transform="translate(678.2 111.8) scale(1)" d="M0.2 2.9L2.95 0.9V15.6" stroke-width="1.7" stroke-linejoin="round"/>
<path transform="translate(684.3 111.8) scale(1)" d="M5.95 3.6C5.8 1.8 5 0.85 3.6 0.85C1.7 0.85 0.85 2.4 0.85 5V10.8C0.85 13.4 1.7 14.75 3.5 14.75C5.3 14.75 6.1 13.4 6.1 10.6C6.1 7.9 5.3 6.6 3.6 6.6C2.2 6.6 1.2 7.5 0.85 9" stroke-width="1.7" stroke-linejoin="round"/>
<path transform="translate(700.9 177.7) scale(1.01)" d="M5.6 0V15.6M5.6 7.6C5.3 6 4.5 5.2 3.3 5.2C1.6 5.2 0.85 6.8 0.85 10C0.85 13.2 1.6 14.75 3.3 14.75C4.5 14.75 5.3 13.9 5.6 12.4" stroke-width="1.69" stroke-linejoin="round"/>
<path transform="translate(338 351.4) scale(1)" d="M6.3 0.85H1.75L1.3 7.4C1.8 6.4 2.6 5.95 3.6 5.95C5.4 5.95 6.15 7.4 6.15 10.3C6.15 13.3 5.3 14.75 3.5 14.75C1.9 14.75 1 13.8 0.85 12" stroke-width="1.7" stroke-linejoin="round"/>
<path transform="translate(376 354.2) scale(1) skewX(-6)" d="M0.3 0.85H5.7L2.1 15.6" stroke-width="1.7" stroke-linejoin="round"/>
<path transform="translate(419.2 348.5) scale(1)" d="M0.2 2.9L2.95 0.9V15.6" stroke-width="1.7" stroke-linejoin="round"/>
<path transform="translate(425.3 348.5) scale(1)" d="M0.3 0.85H5.7L2.1 15.6" stroke-width="1.7" stroke-linejoin="round"/>
<path transform="translate(472.6 337.1) scale(1)" d="M5.95 3.6C5.8 1.8 5 0.85 3.6 0.85C1.7 0.85 0.85 2.4 0.85 5V10.8C0.85 13.4 1.7 14.75 3.5 14.75C5.3 14.75 6.1 13.4 6.1 10.6C6.1 7.9 5.3 6.6 3.6 6.6C2.2 6.6 1.2 7.5 0.85 9" stroke-width="1.7" stroke-linejoin="round"/>
<path transform="translate(202.4 378.5) scale(1)" d="M3.45 7.1C1.8 7.1 1.1 6 1.1 4C1.1 2 1.9 0.85 3.45 0.85C5 0.85 5.8 2 5.8 4C5.8 6 5.1 7.1 3.45 7.1C1.6 7.1 0.85 8.6 0.85 11C0.85 13.4 1.7 14.75 3.45 14.75C5.2 14.75 6.05 13.4 6.05 11C6.05 8.6 5.3 7.1 3.45 7.1Z" stroke-width="1.7" stroke-linejoin="round"/>
<path transform="translate(82.2 415.6) scale(1)" d="M0.2 2.9L2.95 0.9V15.6" stroke-width="1.7" stroke-linejoin="round"/>
<path transform="translate(88.3 415.6) scale(1)" d="M3.7 0L1.25 12.3H7.4M5.8 8.2V15.6" stroke-width="1.7" stroke-linejoin="round"/><text x="98.2" y="41.0" font-size="14.2" font-weight="bold" fill="#000" stroke="#fff" stroke-width="0.22" textLength="85.8" lengthAdjust="spacingAndGlyphs">EP0307562 A2</text></svg></body></html>
